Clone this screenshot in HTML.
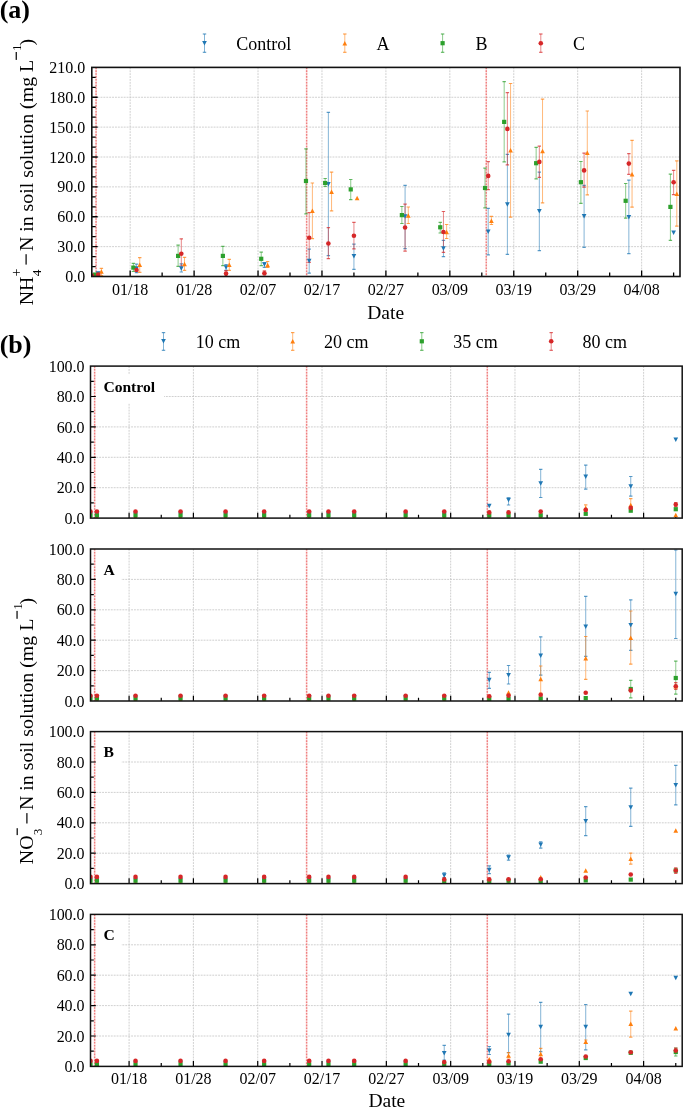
<!DOCTYPE html>
<html><head><meta charset="utf-8"><style>
html,body{margin:0;padding:0;background:#fff;width:685px;height:1110px;overflow:hidden}
svg{display:block}
text{font-family:"Liberation Serif", serif;fill:#000}
svg{-webkit-font-smoothing:antialiased;will-change:transform}
</style></head><body>
<svg width="685" height="1110" viewBox="0 0 685 1110">
<g>
<line x1="130.16" y1="67.40" x2="130.16" y2="276.50" stroke="#c4c4c4" stroke-width="0.8" stroke-dasharray="1.9,1"/>
<line x1="194.10" y1="67.40" x2="194.10" y2="276.50" stroke="#c4c4c4" stroke-width="0.8" stroke-dasharray="1.9,1"/>
<line x1="258.03" y1="67.40" x2="258.03" y2="276.50" stroke="#c4c4c4" stroke-width="0.8" stroke-dasharray="1.9,1"/>
<line x1="321.97" y1="67.40" x2="321.97" y2="276.50" stroke="#c4c4c4" stroke-width="0.8" stroke-dasharray="1.9,1"/>
<line x1="385.90" y1="67.40" x2="385.90" y2="276.50" stroke="#c4c4c4" stroke-width="0.8" stroke-dasharray="1.9,1"/>
<line x1="449.83" y1="67.40" x2="449.83" y2="276.50" stroke="#c4c4c4" stroke-width="0.8" stroke-dasharray="1.9,1"/>
<line x1="513.77" y1="67.40" x2="513.77" y2="276.50" stroke="#c4c4c4" stroke-width="0.8" stroke-dasharray="1.9,1"/>
<line x1="577.70" y1="67.40" x2="577.70" y2="276.50" stroke="#c4c4c4" stroke-width="0.8" stroke-dasharray="1.9,1"/>
<line x1="641.64" y1="67.40" x2="641.64" y2="276.50" stroke="#c4c4c4" stroke-width="0.8" stroke-dasharray="1.9,1"/>
<line x1="91.80" y1="246.63" x2="680.00" y2="246.63" stroke="#c4c4c4" stroke-width="0.8" stroke-dasharray="1.9,1"/>
<line x1="91.80" y1="216.76" x2="680.00" y2="216.76" stroke="#c4c4c4" stroke-width="0.8" stroke-dasharray="1.9,1"/>
<line x1="91.80" y1="186.89" x2="680.00" y2="186.89" stroke="#c4c4c4" stroke-width="0.8" stroke-dasharray="1.9,1"/>
<line x1="91.80" y1="157.01" x2="680.00" y2="157.01" stroke="#c4c4c4" stroke-width="0.8" stroke-dasharray="1.9,1"/>
<line x1="91.80" y1="127.14" x2="680.00" y2="127.14" stroke="#c4c4c4" stroke-width="0.8" stroke-dasharray="1.9,1"/>
<line x1="91.80" y1="97.27" x2="680.00" y2="97.27" stroke="#c4c4c4" stroke-width="0.8" stroke-dasharray="1.9,1"/>
<line x1="96.08" y1="67.40" x2="96.08" y2="276.50" stroke="#fadada" stroke-width="1.6"/>
<line x1="96.08" y1="67.40" x2="96.08" y2="276.50" stroke="#f08080" stroke-width="1.4" stroke-dasharray="1.6,1.3"/>
<line x1="306.62" y1="67.40" x2="306.62" y2="276.50" stroke="#fadada" stroke-width="1.6"/>
<line x1="306.62" y1="67.40" x2="306.62" y2="276.50" stroke="#f08080" stroke-width="1.4" stroke-dasharray="1.6,1.3"/>
<line x1="486.28" y1="67.40" x2="486.28" y2="276.50" stroke="#fadada" stroke-width="1.6"/>
<line x1="486.28" y1="67.40" x2="486.28" y2="276.50" stroke="#f08080" stroke-width="1.4" stroke-dasharray="1.6,1.3"/>
</g>
<path d="M91.80,266.54h3.9 M91.80,256.59h3.9 M91.80,246.63h5.9 M91.80,236.67h3.9 M91.80,226.71h3.9 M91.80,216.76h5.9 M91.80,206.80h3.9 M91.80,196.84h3.9 M91.80,186.89h5.9 M91.80,176.93h3.9 M91.80,166.97h3.9 M91.80,157.01h5.9 M91.80,147.06h3.9 M91.80,137.10h3.9 M91.80,127.14h5.9 M91.80,117.19h3.9 M91.80,107.23h3.9 M91.80,97.27h5.9 M91.80,87.31h3.9 M91.80,77.36h3.9" stroke="#000" stroke-width="1.3" fill="none"/>
<path d="M130.16,276.50v-5.9 M194.10,276.50v-5.9 M258.03,276.50v-5.9 M321.97,276.50v-5.9 M385.90,276.50v-5.9 M449.83,276.50v-5.9 M513.77,276.50v-5.9 M577.70,276.50v-5.9 M641.64,276.50v-5.9 M162.13,276.50v-3.9 M226.06,276.50v-3.9 M290.00,276.50v-3.9 M353.93,276.50v-3.9 M417.87,276.50v-3.9 M481.80,276.50v-3.9 M545.74,276.50v-3.9 M609.67,276.50v-3.9 M673.61,276.50v-3.9" stroke="#000" stroke-width="1.3" fill="none"/>
<clipPath id="cpa"><rect x="91.8" y="67.4" width="588.2" height="209.1"/></clipPath>
<g clip-path="url(#cpa)">
<line x1="98.19" y1="272.40" x2="98.19" y2="275.00" stroke="#1f77b4" stroke-opacity="0.55" stroke-width="1.0"/><line x1="96.49" y1="272.40" x2="99.89" y2="272.40" stroke="#1f77b4" stroke-opacity="0.72" stroke-width="1.2"/><line x1="96.49" y1="275.00" x2="99.89" y2="275.00" stroke="#1f77b4" stroke-opacity="0.72" stroke-width="1.2"/>
<line x1="136.55" y1="264.20" x2="136.55" y2="272.60" stroke="#1f77b4" stroke-opacity="0.55" stroke-width="1.0"/><line x1="134.85" y1="264.20" x2="138.25" y2="264.20" stroke="#1f77b4" stroke-opacity="0.72" stroke-width="1.2"/><line x1="134.85" y1="272.60" x2="138.25" y2="272.60" stroke="#1f77b4" stroke-opacity="0.72" stroke-width="1.2"/>
<line x1="181.31" y1="263.90" x2="181.31" y2="272.00" stroke="#1f77b4" stroke-opacity="0.55" stroke-width="1.0"/><line x1="179.61" y1="263.90" x2="183.01" y2="263.90" stroke="#1f77b4" stroke-opacity="0.72" stroke-width="1.2"/><line x1="179.61" y1="272.00" x2="183.01" y2="272.00" stroke="#1f77b4" stroke-opacity="0.72" stroke-width="1.2"/>
<line x1="226.06" y1="264.70" x2="226.06" y2="270.30" stroke="#1f77b4" stroke-opacity="0.55" stroke-width="1.0"/><line x1="224.36" y1="264.70" x2="227.76" y2="264.70" stroke="#1f77b4" stroke-opacity="0.72" stroke-width="1.2"/><line x1="224.36" y1="270.30" x2="227.76" y2="270.30" stroke="#1f77b4" stroke-opacity="0.72" stroke-width="1.2"/>
<line x1="264.42" y1="262.70" x2="264.42" y2="267.40" stroke="#1f77b4" stroke-opacity="0.55" stroke-width="1.0"/><line x1="262.72" y1="262.70" x2="266.12" y2="262.70" stroke="#1f77b4" stroke-opacity="0.72" stroke-width="1.2"/><line x1="262.72" y1="267.40" x2="266.12" y2="267.40" stroke="#1f77b4" stroke-opacity="0.72" stroke-width="1.2"/>
<line x1="309.18" y1="249.20" x2="309.18" y2="273.20" stroke="#1f77b4" stroke-opacity="0.55" stroke-width="1.0"/><line x1="307.48" y1="249.20" x2="310.88" y2="249.20" stroke="#1f77b4" stroke-opacity="0.72" stroke-width="1.2"/><line x1="307.48" y1="273.20" x2="310.88" y2="273.20" stroke="#1f77b4" stroke-opacity="0.72" stroke-width="1.2"/>
<line x1="328.36" y1="112.40" x2="328.36" y2="255.70" stroke="#1f77b4" stroke-opacity="0.55" stroke-width="1.0"/><line x1="326.66" y1="112.40" x2="330.06" y2="112.40" stroke="#1f77b4" stroke-opacity="0.72" stroke-width="1.2"/><line x1="326.66" y1="255.70" x2="330.06" y2="255.70" stroke="#1f77b4" stroke-opacity="0.72" stroke-width="1.2"/>
<line x1="353.93" y1="244.10" x2="353.93" y2="269.40" stroke="#1f77b4" stroke-opacity="0.55" stroke-width="1.0"/><line x1="352.23" y1="244.10" x2="355.63" y2="244.10" stroke="#1f77b4" stroke-opacity="0.72" stroke-width="1.2"/><line x1="352.23" y1="269.40" x2="355.63" y2="269.40" stroke="#1f77b4" stroke-opacity="0.72" stroke-width="1.2"/>
<line x1="405.08" y1="185.40" x2="405.08" y2="248.60" stroke="#1f77b4" stroke-opacity="0.55" stroke-width="1.0"/><line x1="403.38" y1="185.40" x2="406.78" y2="185.40" stroke="#1f77b4" stroke-opacity="0.72" stroke-width="1.2"/><line x1="403.38" y1="248.60" x2="406.78" y2="248.60" stroke="#1f77b4" stroke-opacity="0.72" stroke-width="1.2"/>
<line x1="443.44" y1="240.30" x2="443.44" y2="256.70" stroke="#1f77b4" stroke-opacity="0.55" stroke-width="1.0"/><line x1="441.74" y1="240.30" x2="445.14" y2="240.30" stroke="#1f77b4" stroke-opacity="0.72" stroke-width="1.2"/><line x1="441.74" y1="256.70" x2="445.14" y2="256.70" stroke="#1f77b4" stroke-opacity="0.72" stroke-width="1.2"/>
<line x1="488.20" y1="208.30" x2="488.20" y2="254.90" stroke="#1f77b4" stroke-opacity="0.55" stroke-width="1.0"/><line x1="486.50" y1="208.30" x2="489.90" y2="208.30" stroke="#1f77b4" stroke-opacity="0.72" stroke-width="1.2"/><line x1="486.50" y1="254.90" x2="489.90" y2="254.90" stroke="#1f77b4" stroke-opacity="0.72" stroke-width="1.2"/>
<line x1="507.38" y1="154.30" x2="507.38" y2="254.40" stroke="#1f77b4" stroke-opacity="0.55" stroke-width="1.0"/><line x1="505.68" y1="154.30" x2="509.08" y2="154.30" stroke="#1f77b4" stroke-opacity="0.72" stroke-width="1.2"/><line x1="505.68" y1="254.40" x2="509.08" y2="254.40" stroke="#1f77b4" stroke-opacity="0.72" stroke-width="1.2"/>
<line x1="539.34" y1="172.10" x2="539.34" y2="250.60" stroke="#1f77b4" stroke-opacity="0.55" stroke-width="1.0"/><line x1="537.64" y1="172.10" x2="541.04" y2="172.10" stroke="#1f77b4" stroke-opacity="0.72" stroke-width="1.2"/><line x1="537.64" y1="250.60" x2="541.04" y2="250.60" stroke="#1f77b4" stroke-opacity="0.72" stroke-width="1.2"/>
<line x1="584.10" y1="185.40" x2="584.10" y2="247.40" stroke="#1f77b4" stroke-opacity="0.55" stroke-width="1.0"/><line x1="582.40" y1="185.40" x2="585.80" y2="185.40" stroke="#1f77b4" stroke-opacity="0.72" stroke-width="1.2"/><line x1="582.40" y1="247.40" x2="585.80" y2="247.40" stroke="#1f77b4" stroke-opacity="0.72" stroke-width="1.2"/>
<line x1="628.85" y1="180.10" x2="628.85" y2="253.60" stroke="#1f77b4" stroke-opacity="0.55" stroke-width="1.0"/><line x1="627.15" y1="180.10" x2="630.55" y2="180.10" stroke="#1f77b4" stroke-opacity="0.72" stroke-width="1.2"/><line x1="627.15" y1="253.60" x2="630.55" y2="253.60" stroke="#1f77b4" stroke-opacity="0.72" stroke-width="1.2"/>
<line x1="101.39" y1="268.40" x2="101.39" y2="275.50" stroke="#ff7f0e" stroke-opacity="0.55" stroke-width="1.0"/><line x1="99.69" y1="268.40" x2="103.09" y2="268.40" stroke="#ff7f0e" stroke-opacity="0.72" stroke-width="1.2"/><line x1="99.69" y1="275.50" x2="103.09" y2="275.50" stroke="#ff7f0e" stroke-opacity="0.72" stroke-width="1.2"/>
<line x1="139.75" y1="257.70" x2="139.75" y2="272.30" stroke="#ff7f0e" stroke-opacity="0.55" stroke-width="1.0"/><line x1="138.05" y1="257.70" x2="141.45" y2="257.70" stroke="#ff7f0e" stroke-opacity="0.72" stroke-width="1.2"/><line x1="138.05" y1="272.30" x2="141.45" y2="272.30" stroke="#ff7f0e" stroke-opacity="0.72" stroke-width="1.2"/>
<line x1="184.51" y1="257.40" x2="184.51" y2="270.30" stroke="#ff7f0e" stroke-opacity="0.55" stroke-width="1.0"/><line x1="182.81" y1="257.40" x2="186.21" y2="257.40" stroke="#ff7f0e" stroke-opacity="0.72" stroke-width="1.2"/><line x1="182.81" y1="270.30" x2="186.21" y2="270.30" stroke="#ff7f0e" stroke-opacity="0.72" stroke-width="1.2"/>
<line x1="229.26" y1="259.40" x2="229.26" y2="270.30" stroke="#ff7f0e" stroke-opacity="0.55" stroke-width="1.0"/><line x1="227.56" y1="259.40" x2="230.96" y2="259.40" stroke="#ff7f0e" stroke-opacity="0.72" stroke-width="1.2"/><line x1="227.56" y1="270.30" x2="230.96" y2="270.30" stroke="#ff7f0e" stroke-opacity="0.72" stroke-width="1.2"/>
<line x1="267.62" y1="261.50" x2="267.62" y2="267.40" stroke="#ff7f0e" stroke-opacity="0.55" stroke-width="1.0"/><line x1="265.92" y1="261.50" x2="269.32" y2="261.50" stroke="#ff7f0e" stroke-opacity="0.72" stroke-width="1.2"/><line x1="265.92" y1="267.40" x2="269.32" y2="267.40" stroke="#ff7f0e" stroke-opacity="0.72" stroke-width="1.2"/>
<line x1="312.38" y1="183.00" x2="312.38" y2="238.60" stroke="#ff7f0e" stroke-opacity="0.55" stroke-width="1.0"/><line x1="310.68" y1="183.00" x2="314.07" y2="183.00" stroke="#ff7f0e" stroke-opacity="0.72" stroke-width="1.2"/><line x1="310.68" y1="238.60" x2="314.07" y2="238.60" stroke="#ff7f0e" stroke-opacity="0.72" stroke-width="1.2"/>
<line x1="331.56" y1="172.20" x2="331.56" y2="210.80" stroke="#ff7f0e" stroke-opacity="0.55" stroke-width="1.0"/><line x1="329.86" y1="172.20" x2="333.26" y2="172.20" stroke="#ff7f0e" stroke-opacity="0.72" stroke-width="1.2"/><line x1="329.86" y1="210.80" x2="333.26" y2="210.80" stroke="#ff7f0e" stroke-opacity="0.72" stroke-width="1.2"/>
<line x1="408.28" y1="207.00" x2="408.28" y2="223.50" stroke="#ff7f0e" stroke-opacity="0.55" stroke-width="1.0"/><line x1="406.58" y1="207.00" x2="409.98" y2="207.00" stroke="#ff7f0e" stroke-opacity="0.72" stroke-width="1.2"/><line x1="406.58" y1="223.50" x2="409.98" y2="223.50" stroke="#ff7f0e" stroke-opacity="0.72" stroke-width="1.2"/>
<line x1="446.64" y1="224.50" x2="446.64" y2="238.50" stroke="#ff7f0e" stroke-opacity="0.55" stroke-width="1.0"/><line x1="444.94" y1="224.50" x2="448.34" y2="224.50" stroke="#ff7f0e" stroke-opacity="0.72" stroke-width="1.2"/><line x1="444.94" y1="238.50" x2="448.34" y2="238.50" stroke="#ff7f0e" stroke-opacity="0.72" stroke-width="1.2"/>
<line x1="491.39" y1="216.40" x2="491.39" y2="224.50" stroke="#ff7f0e" stroke-opacity="0.55" stroke-width="1.0"/><line x1="489.69" y1="216.40" x2="493.09" y2="216.40" stroke="#ff7f0e" stroke-opacity="0.72" stroke-width="1.2"/><line x1="489.69" y1="224.50" x2="493.09" y2="224.50" stroke="#ff7f0e" stroke-opacity="0.72" stroke-width="1.2"/>
<line x1="510.57" y1="83.50" x2="510.57" y2="217.10" stroke="#ff7f0e" stroke-opacity="0.55" stroke-width="1.0"/><line x1="508.87" y1="83.50" x2="512.27" y2="83.50" stroke="#ff7f0e" stroke-opacity="0.72" stroke-width="1.2"/><line x1="508.87" y1="217.10" x2="512.27" y2="217.10" stroke="#ff7f0e" stroke-opacity="0.72" stroke-width="1.2"/>
<line x1="542.54" y1="99.10" x2="542.54" y2="202.90" stroke="#ff7f0e" stroke-opacity="0.55" stroke-width="1.0"/><line x1="540.84" y1="99.10" x2="544.24" y2="99.10" stroke="#ff7f0e" stroke-opacity="0.72" stroke-width="1.2"/><line x1="540.84" y1="202.90" x2="544.24" y2="202.90" stroke="#ff7f0e" stroke-opacity="0.72" stroke-width="1.2"/>
<line x1="587.29" y1="111.00" x2="587.29" y2="194.90" stroke="#ff7f0e" stroke-opacity="0.55" stroke-width="1.0"/><line x1="585.59" y1="111.00" x2="588.99" y2="111.00" stroke="#ff7f0e" stroke-opacity="0.72" stroke-width="1.2"/><line x1="585.59" y1="194.90" x2="588.99" y2="194.90" stroke="#ff7f0e" stroke-opacity="0.72" stroke-width="1.2"/>
<line x1="632.05" y1="140.30" x2="632.05" y2="207.20" stroke="#ff7f0e" stroke-opacity="0.55" stroke-width="1.0"/><line x1="630.35" y1="140.30" x2="633.75" y2="140.30" stroke="#ff7f0e" stroke-opacity="0.72" stroke-width="1.2"/><line x1="630.35" y1="207.20" x2="633.75" y2="207.20" stroke="#ff7f0e" stroke-opacity="0.72" stroke-width="1.2"/>
<line x1="676.80" y1="160.90" x2="676.80" y2="226.10" stroke="#ff7f0e" stroke-opacity="0.55" stroke-width="1.0"/><line x1="675.10" y1="160.90" x2="678.50" y2="160.90" stroke="#ff7f0e" stroke-opacity="0.72" stroke-width="1.2"/><line x1="675.10" y1="226.10" x2="678.50" y2="226.10" stroke="#ff7f0e" stroke-opacity="0.72" stroke-width="1.2"/>
<line x1="133.36" y1="263.30" x2="133.36" y2="271.50" stroke="#2ca02c" stroke-opacity="0.55" stroke-width="1.0"/><line x1="131.66" y1="263.30" x2="135.06" y2="263.30" stroke="#2ca02c" stroke-opacity="0.72" stroke-width="1.2"/><line x1="131.66" y1="271.50" x2="135.06" y2="271.50" stroke="#2ca02c" stroke-opacity="0.72" stroke-width="1.2"/>
<line x1="178.11" y1="245.20" x2="178.11" y2="266.40" stroke="#2ca02c" stroke-opacity="0.55" stroke-width="1.0"/><line x1="176.41" y1="245.20" x2="179.81" y2="245.20" stroke="#2ca02c" stroke-opacity="0.72" stroke-width="1.2"/><line x1="176.41" y1="266.40" x2="179.81" y2="266.40" stroke="#2ca02c" stroke-opacity="0.72" stroke-width="1.2"/>
<line x1="222.87" y1="246.40" x2="222.87" y2="265.60" stroke="#2ca02c" stroke-opacity="0.55" stroke-width="1.0"/><line x1="221.17" y1="246.40" x2="224.57" y2="246.40" stroke="#2ca02c" stroke-opacity="0.72" stroke-width="1.2"/><line x1="221.17" y1="265.60" x2="224.57" y2="265.60" stroke="#2ca02c" stroke-opacity="0.72" stroke-width="1.2"/>
<line x1="261.23" y1="252.20" x2="261.23" y2="265.60" stroke="#2ca02c" stroke-opacity="0.55" stroke-width="1.0"/><line x1="259.53" y1="252.20" x2="262.93" y2="252.20" stroke="#2ca02c" stroke-opacity="0.72" stroke-width="1.2"/><line x1="259.53" y1="265.60" x2="262.93" y2="265.60" stroke="#2ca02c" stroke-opacity="0.72" stroke-width="1.2"/>
<line x1="305.98" y1="148.80" x2="305.98" y2="213.90" stroke="#2ca02c" stroke-opacity="0.55" stroke-width="1.0"/><line x1="304.28" y1="148.80" x2="307.68" y2="148.80" stroke="#2ca02c" stroke-opacity="0.72" stroke-width="1.2"/><line x1="304.28" y1="213.90" x2="307.68" y2="213.90" stroke="#2ca02c" stroke-opacity="0.72" stroke-width="1.2"/>
<line x1="325.16" y1="178.50" x2="325.16" y2="186.50" stroke="#2ca02c" stroke-opacity="0.55" stroke-width="1.0"/><line x1="323.46" y1="178.50" x2="326.86" y2="178.50" stroke="#2ca02c" stroke-opacity="0.72" stroke-width="1.2"/><line x1="323.46" y1="186.50" x2="326.86" y2="186.50" stroke="#2ca02c" stroke-opacity="0.72" stroke-width="1.2"/>
<line x1="350.74" y1="179.50" x2="350.74" y2="199.60" stroke="#2ca02c" stroke-opacity="0.55" stroke-width="1.0"/><line x1="349.04" y1="179.50" x2="352.44" y2="179.50" stroke="#2ca02c" stroke-opacity="0.72" stroke-width="1.2"/><line x1="349.04" y1="199.60" x2="352.44" y2="199.60" stroke="#2ca02c" stroke-opacity="0.72" stroke-width="1.2"/>
<line x1="401.88" y1="206.50" x2="401.88" y2="223.50" stroke="#2ca02c" stroke-opacity="0.55" stroke-width="1.0"/><line x1="400.18" y1="206.50" x2="403.58" y2="206.50" stroke="#2ca02c" stroke-opacity="0.72" stroke-width="1.2"/><line x1="400.18" y1="223.50" x2="403.58" y2="223.50" stroke="#2ca02c" stroke-opacity="0.72" stroke-width="1.2"/>
<line x1="440.24" y1="222.30" x2="440.24" y2="233.00" stroke="#2ca02c" stroke-opacity="0.55" stroke-width="1.0"/><line x1="438.54" y1="222.30" x2="441.94" y2="222.30" stroke="#2ca02c" stroke-opacity="0.72" stroke-width="1.2"/><line x1="438.54" y1="233.00" x2="441.94" y2="233.00" stroke="#2ca02c" stroke-opacity="0.72" stroke-width="1.2"/>
<line x1="485.00" y1="168.10" x2="485.00" y2="207.80" stroke="#2ca02c" stroke-opacity="0.55" stroke-width="1.0"/><line x1="483.30" y1="168.10" x2="486.70" y2="168.10" stroke="#2ca02c" stroke-opacity="0.72" stroke-width="1.2"/><line x1="483.30" y1="207.80" x2="486.70" y2="207.80" stroke="#2ca02c" stroke-opacity="0.72" stroke-width="1.2"/>
<line x1="504.18" y1="81.60" x2="504.18" y2="161.90" stroke="#2ca02c" stroke-opacity="0.55" stroke-width="1.0"/><line x1="502.48" y1="81.60" x2="505.88" y2="81.60" stroke="#2ca02c" stroke-opacity="0.72" stroke-width="1.2"/><line x1="502.48" y1="161.90" x2="505.88" y2="161.90" stroke="#2ca02c" stroke-opacity="0.72" stroke-width="1.2"/>
<line x1="536.15" y1="147.30" x2="536.15" y2="178.90" stroke="#2ca02c" stroke-opacity="0.55" stroke-width="1.0"/><line x1="534.45" y1="147.30" x2="537.85" y2="147.30" stroke="#2ca02c" stroke-opacity="0.72" stroke-width="1.2"/><line x1="534.45" y1="178.90" x2="537.85" y2="178.90" stroke="#2ca02c" stroke-opacity="0.72" stroke-width="1.2"/>
<line x1="580.90" y1="161.50" x2="580.90" y2="203.30" stroke="#2ca02c" stroke-opacity="0.55" stroke-width="1.0"/><line x1="579.20" y1="161.50" x2="582.60" y2="161.50" stroke="#2ca02c" stroke-opacity="0.72" stroke-width="1.2"/><line x1="579.20" y1="203.30" x2="582.60" y2="203.30" stroke="#2ca02c" stroke-opacity="0.72" stroke-width="1.2"/>
<line x1="625.66" y1="183.50" x2="625.66" y2="218.20" stroke="#2ca02c" stroke-opacity="0.55" stroke-width="1.0"/><line x1="623.96" y1="183.50" x2="627.36" y2="183.50" stroke="#2ca02c" stroke-opacity="0.72" stroke-width="1.2"/><line x1="623.96" y1="218.20" x2="627.36" y2="218.20" stroke="#2ca02c" stroke-opacity="0.72" stroke-width="1.2"/>
<line x1="670.41" y1="174.10" x2="670.41" y2="240.30" stroke="#2ca02c" stroke-opacity="0.55" stroke-width="1.0"/><line x1="668.71" y1="174.10" x2="672.11" y2="174.10" stroke="#2ca02c" stroke-opacity="0.72" stroke-width="1.2"/><line x1="668.71" y1="240.30" x2="672.11" y2="240.30" stroke="#2ca02c" stroke-opacity="0.72" stroke-width="1.2"/>
<line x1="181.31" y1="238.80" x2="181.31" y2="266.00" stroke="#d62728" stroke-opacity="0.55" stroke-width="1.0"/><line x1="179.61" y1="238.80" x2="183.01" y2="238.80" stroke="#d62728" stroke-opacity="0.72" stroke-width="1.2"/><line x1="179.61" y1="266.00" x2="183.01" y2="266.00" stroke="#d62728" stroke-opacity="0.72" stroke-width="1.2"/>
<line x1="226.06" y1="270.60" x2="226.06" y2="275.00" stroke="#d62728" stroke-opacity="0.55" stroke-width="1.0"/><line x1="224.36" y1="270.60" x2="227.76" y2="270.60" stroke="#d62728" stroke-opacity="0.72" stroke-width="1.2"/><line x1="224.36" y1="275.00" x2="227.76" y2="275.00" stroke="#d62728" stroke-opacity="0.72" stroke-width="1.2"/>
<line x1="264.42" y1="270.90" x2="264.42" y2="275.00" stroke="#d62728" stroke-opacity="0.55" stroke-width="1.0"/><line x1="262.72" y1="270.90" x2="266.12" y2="270.90" stroke="#d62728" stroke-opacity="0.72" stroke-width="1.2"/><line x1="262.72" y1="275.00" x2="266.12" y2="275.00" stroke="#d62728" stroke-opacity="0.72" stroke-width="1.2"/>
<line x1="309.18" y1="212.60" x2="309.18" y2="262.30" stroke="#d62728" stroke-opacity="0.55" stroke-width="1.0"/><line x1="307.48" y1="212.60" x2="310.88" y2="212.60" stroke="#d62728" stroke-opacity="0.72" stroke-width="1.2"/><line x1="307.48" y1="262.30" x2="310.88" y2="262.30" stroke="#d62728" stroke-opacity="0.72" stroke-width="1.2"/>
<line x1="328.36" y1="227.70" x2="328.36" y2="258.70" stroke="#d62728" stroke-opacity="0.55" stroke-width="1.0"/><line x1="326.66" y1="227.70" x2="330.06" y2="227.70" stroke="#d62728" stroke-opacity="0.72" stroke-width="1.2"/><line x1="326.66" y1="258.70" x2="330.06" y2="258.70" stroke="#d62728" stroke-opacity="0.72" stroke-width="1.2"/>
<line x1="353.93" y1="222.40" x2="353.93" y2="248.90" stroke="#d62728" stroke-opacity="0.55" stroke-width="1.0"/><line x1="352.23" y1="222.40" x2="355.63" y2="222.40" stroke="#d62728" stroke-opacity="0.72" stroke-width="1.2"/><line x1="352.23" y1="248.90" x2="355.63" y2="248.90" stroke="#d62728" stroke-opacity="0.72" stroke-width="1.2"/>
<line x1="405.08" y1="204.20" x2="405.08" y2="251.10" stroke="#d62728" stroke-opacity="0.55" stroke-width="1.0"/><line x1="403.38" y1="204.20" x2="406.78" y2="204.20" stroke="#d62728" stroke-opacity="0.72" stroke-width="1.2"/><line x1="403.38" y1="251.10" x2="406.78" y2="251.10" stroke="#d62728" stroke-opacity="0.72" stroke-width="1.2"/>
<line x1="443.44" y1="211.50" x2="443.44" y2="252.30" stroke="#d62728" stroke-opacity="0.55" stroke-width="1.0"/><line x1="441.74" y1="211.50" x2="445.14" y2="211.50" stroke="#d62728" stroke-opacity="0.72" stroke-width="1.2"/><line x1="441.74" y1="252.30" x2="445.14" y2="252.30" stroke="#d62728" stroke-opacity="0.72" stroke-width="1.2"/>
<line x1="488.20" y1="161.60" x2="488.20" y2="189.70" stroke="#d62728" stroke-opacity="0.55" stroke-width="1.0"/><line x1="486.50" y1="161.60" x2="489.90" y2="161.60" stroke="#d62728" stroke-opacity="0.72" stroke-width="1.2"/><line x1="486.50" y1="189.70" x2="489.90" y2="189.70" stroke="#d62728" stroke-opacity="0.72" stroke-width="1.2"/>
<line x1="507.38" y1="92.70" x2="507.38" y2="164.90" stroke="#d62728" stroke-opacity="0.55" stroke-width="1.0"/><line x1="505.68" y1="92.70" x2="509.08" y2="92.70" stroke="#d62728" stroke-opacity="0.72" stroke-width="1.2"/><line x1="505.68" y1="164.90" x2="509.08" y2="164.90" stroke="#d62728" stroke-opacity="0.72" stroke-width="1.2"/>
<line x1="539.34" y1="146.20" x2="539.34" y2="177.30" stroke="#d62728" stroke-opacity="0.55" stroke-width="1.0"/><line x1="537.64" y1="146.20" x2="541.04" y2="146.20" stroke="#d62728" stroke-opacity="0.72" stroke-width="1.2"/><line x1="537.64" y1="177.30" x2="541.04" y2="177.30" stroke="#d62728" stroke-opacity="0.72" stroke-width="1.2"/>
<line x1="584.10" y1="153.10" x2="584.10" y2="187.20" stroke="#d62728" stroke-opacity="0.55" stroke-width="1.0"/><line x1="582.40" y1="153.10" x2="585.80" y2="153.10" stroke="#d62728" stroke-opacity="0.72" stroke-width="1.2"/><line x1="582.40" y1="187.20" x2="585.80" y2="187.20" stroke="#d62728" stroke-opacity="0.72" stroke-width="1.2"/>
<line x1="628.85" y1="153.60" x2="628.85" y2="174.30" stroke="#d62728" stroke-opacity="0.55" stroke-width="1.0"/><line x1="627.15" y1="153.60" x2="630.55" y2="153.60" stroke="#d62728" stroke-opacity="0.72" stroke-width="1.2"/><line x1="627.15" y1="174.30" x2="630.55" y2="174.30" stroke="#d62728" stroke-opacity="0.72" stroke-width="1.2"/>
<line x1="673.61" y1="170.40" x2="673.61" y2="194.60" stroke="#d62728" stroke-opacity="0.55" stroke-width="1.0"/><line x1="671.91" y1="170.40" x2="675.31" y2="170.40" stroke="#d62728" stroke-opacity="0.72" stroke-width="1.2"/><line x1="671.91" y1="194.60" x2="675.31" y2="194.60" stroke="#d62728" stroke-opacity="0.72" stroke-width="1.2"/>
<path d="M95.84,271.35L100.54,271.35L98.19,275.85Z" fill="#1f77b4"/>
<path d="M134.20,266.25L138.90,266.25L136.55,270.75Z" fill="#1f77b4"/>
<path d="M178.96,266.25L183.66,266.25L181.31,270.75Z" fill="#1f77b4"/>
<path d="M223.71,265.35L228.41,265.35L226.06,269.85Z" fill="#1f77b4"/>
<path d="M262.07,262.25L266.77,262.25L264.42,266.75Z" fill="#1f77b4"/>
<path d="M306.83,258.65L311.53,258.65L309.18,263.15Z" fill="#1f77b4"/>
<path d="M326.01,181.95L330.71,181.95L328.36,186.45Z" fill="#1f77b4"/>
<path d="M351.58,253.95L356.28,253.95L353.93,258.45Z" fill="#1f77b4"/>
<path d="M402.73,214.35L407.43,214.35L405.08,218.85Z" fill="#1f77b4"/>
<path d="M441.09,246.15L445.79,246.15L443.44,250.65Z" fill="#1f77b4"/>
<path d="M485.85,229.45L490.55,229.45L488.20,233.95Z" fill="#1f77b4"/>
<path d="M505.03,202.35L509.73,202.35L507.38,206.85Z" fill="#1f77b4"/>
<path d="M536.99,209.05L541.69,209.05L539.34,213.55Z" fill="#1f77b4"/>
<path d="M581.75,214.05L586.45,214.05L584.10,218.55Z" fill="#1f77b4"/>
<path d="M626.50,214.95L631.20,214.95L628.85,219.45Z" fill="#1f77b4"/>
<path d="M671.26,230.55L675.96,230.55L673.61,235.05Z" fill="#1f77b4"/>
<path d="M99.04,273.85L103.74,273.85L101.39,269.35Z" fill="#ff7f0e"/>
<path d="M137.40,267.05L142.10,267.05L139.75,262.55Z" fill="#ff7f0e"/>
<path d="M182.16,266.15L186.86,266.15L184.51,261.65Z" fill="#ff7f0e"/>
<path d="M226.91,267.05L231.61,267.05L229.26,262.55Z" fill="#ff7f0e"/>
<path d="M265.27,267.25L269.97,267.25L267.62,262.75Z" fill="#ff7f0e"/>
<path d="M310.02,213.05L314.73,213.05L312.38,208.55Z" fill="#ff7f0e"/>
<path d="M329.21,194.05L333.91,194.05L331.56,189.55Z" fill="#ff7f0e"/>
<path d="M354.78,200.35L359.48,200.35L357.13,195.85Z" fill="#ff7f0e"/>
<path d="M405.93,217.65L410.63,217.65L408.28,213.15Z" fill="#ff7f0e"/>
<path d="M444.29,234.25L448.99,234.25L446.64,229.75Z" fill="#ff7f0e"/>
<path d="M489.04,223.05L493.74,223.05L491.39,218.55Z" fill="#ff7f0e"/>
<path d="M508.22,152.45L512.92,152.45L510.57,147.95Z" fill="#ff7f0e"/>
<path d="M540.19,153.25L544.89,153.25L542.54,148.75Z" fill="#ff7f0e"/>
<path d="M584.94,155.05L589.64,155.05L587.29,150.55Z" fill="#ff7f0e"/>
<path d="M629.70,176.55L634.40,176.55L632.05,172.05Z" fill="#ff7f0e"/>
<path d="M674.45,195.95L679.15,195.95L676.80,191.45Z" fill="#ff7f0e"/>
<rect x="86.50" y="273.50" width="4.20" height="4.20" fill="#2ca02c"/>
<rect x="92.90" y="272.50" width="4.20" height="4.20" fill="#2ca02c"/>
<rect x="131.26" y="265.50" width="4.20" height="4.20" fill="#2ca02c"/>
<rect x="176.01" y="253.80" width="4.20" height="4.20" fill="#2ca02c"/>
<rect x="220.77" y="253.80" width="4.20" height="4.20" fill="#2ca02c"/>
<rect x="259.13" y="256.70" width="4.20" height="4.20" fill="#2ca02c"/>
<rect x="303.88" y="178.90" width="4.20" height="4.20" fill="#2ca02c"/>
<rect x="323.06" y="180.90" width="4.20" height="4.20" fill="#2ca02c"/>
<rect x="348.64" y="187.30" width="4.20" height="4.20" fill="#2ca02c"/>
<rect x="399.78" y="213.00" width="4.20" height="4.20" fill="#2ca02c"/>
<rect x="438.14" y="225.20" width="4.20" height="4.20" fill="#2ca02c"/>
<rect x="482.90" y="185.90" width="4.20" height="4.20" fill="#2ca02c"/>
<rect x="502.08" y="119.80" width="4.20" height="4.20" fill="#2ca02c"/>
<rect x="534.05" y="161.10" width="4.20" height="4.20" fill="#2ca02c"/>
<rect x="578.80" y="180.10" width="4.20" height="4.20" fill="#2ca02c"/>
<rect x="623.56" y="198.70" width="4.20" height="4.20" fill="#2ca02c"/>
<rect x="668.31" y="204.80" width="4.20" height="4.20" fill="#2ca02c"/>
<circle cx="91.80" cy="275.60" r="2.30" fill="#d62728"/>
<circle cx="98.19" cy="274.50" r="2.30" fill="#d62728"/>
<circle cx="136.55" cy="270.00" r="2.30" fill="#d62728"/>
<circle cx="181.31" cy="253.70" r="2.30" fill="#d62728"/>
<circle cx="226.06" cy="273.60" r="2.30" fill="#d62728"/>
<circle cx="264.42" cy="273.20" r="2.30" fill="#d62728"/>
<circle cx="309.18" cy="237.80" r="2.30" fill="#d62728"/>
<circle cx="328.36" cy="243.50" r="2.30" fill="#d62728"/>
<circle cx="353.93" cy="235.70" r="2.30" fill="#d62728"/>
<circle cx="405.08" cy="227.50" r="2.30" fill="#d62728"/>
<circle cx="443.44" cy="232.00" r="2.30" fill="#d62728"/>
<circle cx="488.20" cy="175.90" r="2.30" fill="#d62728"/>
<circle cx="507.38" cy="128.90" r="2.30" fill="#d62728"/>
<circle cx="539.34" cy="161.90" r="2.30" fill="#d62728"/>
<circle cx="584.10" cy="170.40" r="2.30" fill="#d62728"/>
<circle cx="628.85" cy="163.60" r="2.30" fill="#d62728"/>
<circle cx="673.61" cy="182.30" r="2.30" fill="#d62728"/>
</g>
<rect x="91.80" y="67.40" width="588.20" height="209.10" fill="none" stroke="#111" stroke-width="1.6"/>
<text transform="translate(85.30,282.10) scale(1,1.07)" font-size="16" text-anchor="end" font-weight="normal" >0.0</text>
<text transform="translate(85.30,252.23) scale(1,1.07)" font-size="16" text-anchor="end" font-weight="normal" >30.0</text>
<text transform="translate(85.30,222.36) scale(1,1.07)" font-size="16" text-anchor="end" font-weight="normal" >60.0</text>
<text transform="translate(85.30,192.49) scale(1,1.07)" font-size="16" text-anchor="end" font-weight="normal" >90.0</text>
<text transform="translate(85.30,162.61) scale(1,1.07)" font-size="16" text-anchor="end" font-weight="normal" >120.0</text>
<text transform="translate(85.30,132.74) scale(1,1.07)" font-size="16" text-anchor="end" font-weight="normal" >150.0</text>
<text transform="translate(85.30,102.87) scale(1,1.07)" font-size="16" text-anchor="end" font-weight="normal" >180.0</text>
<text transform="translate(85.30,73.00) scale(1,1.07)" font-size="16" text-anchor="end" font-weight="normal" >210.0</text>
<text transform="translate(130.16,294.60) scale(1,1.07)" font-size="16" text-anchor="middle" font-weight="normal" >01/18</text>
<text transform="translate(194.10,294.60) scale(1,1.07)" font-size="16" text-anchor="middle" font-weight="normal" >01/28</text>
<text transform="translate(258.03,294.60) scale(1,1.07)" font-size="16" text-anchor="middle" font-weight="normal" >02/07</text>
<text transform="translate(321.97,294.60) scale(1,1.07)" font-size="16" text-anchor="middle" font-weight="normal" >02/17</text>
<text transform="translate(385.90,294.60) scale(1,1.07)" font-size="16" text-anchor="middle" font-weight="normal" >02/27</text>
<text transform="translate(449.83,294.60) scale(1,1.07)" font-size="16" text-anchor="middle" font-weight="normal" >03/09</text>
<text transform="translate(513.77,294.60) scale(1,1.07)" font-size="16" text-anchor="middle" font-weight="normal" >03/19</text>
<text transform="translate(577.70,294.60) scale(1,1.07)" font-size="16" text-anchor="middle" font-weight="normal" >03/29</text>
<text transform="translate(641.64,294.60) scale(1,1.07)" font-size="16" text-anchor="middle" font-weight="normal" >04/08</text>
<text x="385.70" y="318.60" font-size="19.5" text-anchor="middle" font-weight="normal" >Date</text>
<g>
<line x1="129.09" y1="366.10" x2="129.09" y2="518.10" stroke="#c4c4c4" stroke-width="0.8" stroke-dasharray="1.9,1"/>
<line x1="193.40" y1="366.10" x2="193.40" y2="518.10" stroke="#c4c4c4" stroke-width="0.8" stroke-dasharray="1.9,1"/>
<line x1="257.72" y1="366.10" x2="257.72" y2="518.10" stroke="#c4c4c4" stroke-width="0.8" stroke-dasharray="1.9,1"/>
<line x1="322.03" y1="366.10" x2="322.03" y2="518.10" stroke="#c4c4c4" stroke-width="0.8" stroke-dasharray="1.9,1"/>
<line x1="386.35" y1="366.10" x2="386.35" y2="518.10" stroke="#c4c4c4" stroke-width="0.8" stroke-dasharray="1.9,1"/>
<line x1="450.67" y1="366.10" x2="450.67" y2="518.10" stroke="#c4c4c4" stroke-width="0.8" stroke-dasharray="1.9,1"/>
<line x1="514.98" y1="366.10" x2="514.98" y2="518.10" stroke="#c4c4c4" stroke-width="0.8" stroke-dasharray="1.9,1"/>
<line x1="579.30" y1="366.10" x2="579.30" y2="518.10" stroke="#c4c4c4" stroke-width="0.8" stroke-dasharray="1.9,1"/>
<line x1="643.61" y1="366.10" x2="643.61" y2="518.10" stroke="#c4c4c4" stroke-width="0.8" stroke-dasharray="1.9,1"/>
<line x1="90.50" y1="487.70" x2="682.20" y2="487.70" stroke="#c4c4c4" stroke-width="0.8" stroke-dasharray="1.9,1"/>
<line x1="90.50" y1="457.30" x2="682.20" y2="457.30" stroke="#c4c4c4" stroke-width="0.8" stroke-dasharray="1.9,1"/>
<line x1="90.50" y1="426.90" x2="682.20" y2="426.90" stroke="#c4c4c4" stroke-width="0.8" stroke-dasharray="1.9,1"/>
<line x1="90.50" y1="396.50" x2="682.20" y2="396.50" stroke="#c4c4c4" stroke-width="0.8" stroke-dasharray="1.9,1"/>
<rect x="96" y="374.10" width="68.00" height="29" fill="#fff"/>
<line x1="94.62" y1="366.10" x2="94.62" y2="518.10" stroke="#fadada" stroke-width="1.6"/>
<line x1="94.62" y1="366.10" x2="94.62" y2="518.10" stroke="#f08080" stroke-width="1.4" stroke-dasharray="1.6,1.3"/>
<line x1="306.60" y1="366.10" x2="306.60" y2="518.10" stroke="#fadada" stroke-width="1.6"/>
<line x1="306.60" y1="366.10" x2="306.60" y2="518.10" stroke="#f08080" stroke-width="1.4" stroke-dasharray="1.6,1.3"/>
<line x1="487.32" y1="366.10" x2="487.32" y2="518.10" stroke="#fadada" stroke-width="1.6"/>
<line x1="487.32" y1="366.10" x2="487.32" y2="518.10" stroke="#f08080" stroke-width="1.4" stroke-dasharray="1.6,1.3"/>
</g>
<path d="M90.50,502.90h3.3 M90.50,487.70h5.3 M90.50,472.50h3.3 M90.50,457.30h5.3 M90.50,442.10h3.3 M90.50,426.90h5.3 M90.50,411.70h3.3 M90.50,396.50h5.3 M90.50,381.30h3.3 M129.09,518.10v-5.3 M193.40,518.10v-5.3 M257.72,518.10v-5.3 M322.03,518.10v-5.3 M386.35,518.10v-5.3 M450.67,518.10v-5.3 M514.98,518.10v-5.3 M579.30,518.10v-5.3 M643.61,518.10v-5.3 M161.25,518.10v-3.3 M225.56,518.10v-3.3 M289.88,518.10v-3.3 M354.19,518.10v-3.3 M418.51,518.10v-3.3 M482.82,518.10v-3.3 M547.14,518.10v-3.3 M611.45,518.10v-3.3 M675.77,518.10v-3.3" stroke="#000" stroke-width="1.2" fill="none"/>
<clipPath id="cpb0"><rect x="90.5" y="366.1" width="591.7" height="152.0"/></clipPath>
<g clip-path="url(#cpb0)">
<line x1="508.55" y1="497.80" x2="508.55" y2="505.00" stroke="#1f77b4" stroke-opacity="0.55" stroke-width="1.0"/><line x1="506.85" y1="497.80" x2="510.25" y2="497.80" stroke="#1f77b4" stroke-opacity="0.72" stroke-width="1.2"/><line x1="506.85" y1="505.00" x2="510.25" y2="505.00" stroke="#1f77b4" stroke-opacity="0.72" stroke-width="1.2"/>
<line x1="540.71" y1="469.30" x2="540.71" y2="497.50" stroke="#1f77b4" stroke-opacity="0.55" stroke-width="1.0"/><line x1="539.01" y1="469.30" x2="542.41" y2="469.30" stroke="#1f77b4" stroke-opacity="0.72" stroke-width="1.2"/><line x1="539.01" y1="497.50" x2="542.41" y2="497.50" stroke="#1f77b4" stroke-opacity="0.72" stroke-width="1.2"/>
<line x1="585.73" y1="465.10" x2="585.73" y2="489.10" stroke="#1f77b4" stroke-opacity="0.55" stroke-width="1.0"/><line x1="584.03" y1="465.10" x2="587.43" y2="465.10" stroke="#1f77b4" stroke-opacity="0.72" stroke-width="1.2"/><line x1="584.03" y1="489.10" x2="587.43" y2="489.10" stroke="#1f77b4" stroke-opacity="0.72" stroke-width="1.2"/>
<line x1="630.75" y1="476.50" x2="630.75" y2="496.10" stroke="#1f77b4" stroke-opacity="0.55" stroke-width="1.0"/><line x1="629.05" y1="476.50" x2="632.45" y2="476.50" stroke="#1f77b4" stroke-opacity="0.72" stroke-width="1.2"/><line x1="629.05" y1="496.10" x2="632.45" y2="496.10" stroke="#1f77b4" stroke-opacity="0.72" stroke-width="1.2"/>
<line x1="585.73" y1="504.90" x2="585.73" y2="511.00" stroke="#ff7f0e" stroke-opacity="0.55" stroke-width="1.0"/><line x1="584.03" y1="504.90" x2="587.43" y2="504.90" stroke="#ff7f0e" stroke-opacity="0.72" stroke-width="1.2"/><line x1="584.03" y1="511.00" x2="587.43" y2="511.00" stroke="#ff7f0e" stroke-opacity="0.72" stroke-width="1.2"/>
<line x1="630.75" y1="498.60" x2="630.75" y2="510.40" stroke="#ff7f0e" stroke-opacity="0.55" stroke-width="1.0"/><line x1="629.05" y1="498.60" x2="632.45" y2="498.60" stroke="#ff7f0e" stroke-opacity="0.72" stroke-width="1.2"/><line x1="629.05" y1="510.40" x2="632.45" y2="510.40" stroke="#ff7f0e" stroke-opacity="0.72" stroke-width="1.2"/>
<line x1="675.77" y1="502.50" x2="675.77" y2="506.50" stroke="#d62728" stroke-opacity="0.55" stroke-width="1.0"/><line x1="674.07" y1="502.50" x2="677.47" y2="502.50" stroke="#d62728" stroke-opacity="0.72" stroke-width="1.2"/><line x1="674.07" y1="506.50" x2="677.47" y2="506.50" stroke="#d62728" stroke-opacity="0.72" stroke-width="1.2"/>
<path d="M88.15,512.25L92.85,512.25L90.50,516.75Z" fill="#1f77b4"/>
<path d="M94.58,512.25L99.28,512.25L96.93,516.75Z" fill="#1f77b4"/>
<path d="M133.17,512.25L137.87,512.25L135.52,516.75Z" fill="#1f77b4"/>
<path d="M178.19,512.25L182.89,512.25L180.54,516.75Z" fill="#1f77b4"/>
<path d="M223.21,512.25L227.91,512.25L225.56,516.75Z" fill="#1f77b4"/>
<path d="M261.80,512.25L266.50,512.25L264.15,516.75Z" fill="#1f77b4"/>
<path d="M306.82,512.25L311.52,512.25L309.17,516.75Z" fill="#1f77b4"/>
<path d="M326.12,512.25L330.82,512.25L328.47,516.75Z" fill="#1f77b4"/>
<path d="M351.84,512.25L356.54,512.25L354.19,516.75Z" fill="#1f77b4"/>
<path d="M403.29,512.25L407.99,512.25L405.64,516.75Z" fill="#1f77b4"/>
<path d="M441.88,512.25L446.58,512.25L444.23,516.75Z" fill="#1f77b4"/>
<path d="M486.90,503.85L491.60,503.85L489.25,508.35Z" fill="#1f77b4"/>
<path d="M506.20,497.85L510.90,497.85L508.55,502.35Z" fill="#1f77b4"/>
<path d="M538.36,481.15L543.06,481.15L540.71,485.65Z" fill="#1f77b4"/>
<path d="M583.38,474.55L588.08,474.55L585.73,479.05Z" fill="#1f77b4"/>
<path d="M628.40,484.15L633.10,484.15L630.75,488.65Z" fill="#1f77b4"/>
<path d="M673.42,437.45L678.12,437.45L675.77,441.95Z" fill="#1f77b4"/>
<path d="M88.15,519.15L92.85,519.15L90.50,514.65Z" fill="#ff7f0e"/>
<path d="M94.58,519.15L99.28,519.15L96.93,514.65Z" fill="#ff7f0e"/>
<path d="M133.17,519.15L137.87,519.15L135.52,514.65Z" fill="#ff7f0e"/>
<path d="M178.19,519.15L182.89,519.15L180.54,514.65Z" fill="#ff7f0e"/>
<path d="M223.21,519.15L227.91,519.15L225.56,514.65Z" fill="#ff7f0e"/>
<path d="M261.80,519.15L266.50,519.15L264.15,514.65Z" fill="#ff7f0e"/>
<path d="M306.82,519.15L311.52,519.15L309.17,514.65Z" fill="#ff7f0e"/>
<path d="M326.12,519.15L330.82,519.15L328.47,514.65Z" fill="#ff7f0e"/>
<path d="M351.84,519.15L356.54,519.15L354.19,514.65Z" fill="#ff7f0e"/>
<path d="M403.29,519.15L407.99,519.15L405.64,514.65Z" fill="#ff7f0e"/>
<path d="M441.88,519.15L446.58,519.15L444.23,514.65Z" fill="#ff7f0e"/>
<path d="M486.90,519.15L491.60,519.15L489.25,514.65Z" fill="#ff7f0e"/>
<path d="M506.20,519.15L510.90,519.15L508.55,514.65Z" fill="#ff7f0e"/>
<path d="M538.36,519.15L543.06,519.15L540.71,514.65Z" fill="#ff7f0e"/>
<path d="M583.38,510.15L588.08,510.15L585.73,505.65Z" fill="#ff7f0e"/>
<path d="M628.40,507.25L633.10,507.25L630.75,502.75Z" fill="#ff7f0e"/>
<path d="M673.42,517.15L678.12,517.15L675.77,512.65Z" fill="#ff7f0e"/>
<rect x="88.40" y="513.20" width="4.20" height="4.20" fill="#2ca02c"/>
<rect x="94.83" y="513.20" width="4.20" height="4.20" fill="#2ca02c"/>
<rect x="133.42" y="513.20" width="4.20" height="4.20" fill="#2ca02c"/>
<rect x="178.44" y="513.20" width="4.20" height="4.20" fill="#2ca02c"/>
<rect x="223.46" y="513.20" width="4.20" height="4.20" fill="#2ca02c"/>
<rect x="262.05" y="513.20" width="4.20" height="4.20" fill="#2ca02c"/>
<rect x="307.07" y="513.20" width="4.20" height="4.20" fill="#2ca02c"/>
<rect x="326.37" y="513.20" width="4.20" height="4.20" fill="#2ca02c"/>
<rect x="352.09" y="513.20" width="4.20" height="4.20" fill="#2ca02c"/>
<rect x="403.54" y="513.20" width="4.20" height="4.20" fill="#2ca02c"/>
<rect x="442.13" y="513.20" width="4.20" height="4.20" fill="#2ca02c"/>
<rect x="487.15" y="513.30" width="4.20" height="4.20" fill="#2ca02c"/>
<rect x="506.45" y="513.30" width="4.20" height="4.20" fill="#2ca02c"/>
<rect x="538.61" y="513.20" width="4.20" height="4.20" fill="#2ca02c"/>
<rect x="583.63" y="511.70" width="4.20" height="4.20" fill="#2ca02c"/>
<rect x="628.65" y="508.60" width="4.20" height="4.20" fill="#2ca02c"/>
<rect x="673.67" y="507.10" width="4.20" height="4.20" fill="#2ca02c"/>
<circle cx="90.50" cy="511.50" r="2.30" fill="#d62728"/>
<circle cx="96.93" cy="511.50" r="2.30" fill="#d62728"/>
<circle cx="135.52" cy="511.50" r="2.30" fill="#d62728"/>
<circle cx="180.54" cy="511.50" r="2.30" fill="#d62728"/>
<circle cx="225.56" cy="511.50" r="2.30" fill="#d62728"/>
<circle cx="264.15" cy="511.50" r="2.30" fill="#d62728"/>
<circle cx="309.17" cy="511.50" r="2.30" fill="#d62728"/>
<circle cx="328.47" cy="511.50" r="2.30" fill="#d62728"/>
<circle cx="354.19" cy="511.50" r="2.30" fill="#d62728"/>
<circle cx="405.64" cy="511.50" r="2.30" fill="#d62728"/>
<circle cx="444.23" cy="511.50" r="2.30" fill="#d62728"/>
<circle cx="489.25" cy="512.40" r="2.30" fill="#d62728"/>
<circle cx="508.55" cy="512.40" r="2.30" fill="#d62728"/>
<circle cx="540.71" cy="511.60" r="2.30" fill="#d62728"/>
<circle cx="585.73" cy="509.90" r="2.30" fill="#d62728"/>
<circle cx="630.75" cy="507.90" r="2.30" fill="#d62728"/>
<circle cx="675.77" cy="504.50" r="2.30" fill="#d62728"/>
</g>
<rect x="90.50" y="366.10" width="591.70" height="152.00" fill="none" stroke="#111" stroke-width="1.5"/>
<text transform="translate(84.60,523.70) scale(1,1.07)" font-size="16" text-anchor="end" font-weight="normal" >0.0</text>
<text transform="translate(84.60,493.30) scale(1,1.07)" font-size="16" text-anchor="end" font-weight="normal" >20.0</text>
<text transform="translate(84.60,462.90) scale(1,1.07)" font-size="16" text-anchor="end" font-weight="normal" >40.0</text>
<text transform="translate(84.60,432.50) scale(1,1.07)" font-size="16" text-anchor="end" font-weight="normal" >60.0</text>
<text transform="translate(84.60,402.10) scale(1,1.07)" font-size="16" text-anchor="end" font-weight="normal" >80.0</text>
<text transform="translate(84.60,371.70) scale(1,1.07)" font-size="16" text-anchor="end" font-weight="normal" >100.0</text>
<text x="103.40" y="391.60" font-size="15.6" text-anchor="start" font-weight="bold" >Control</text>
<g>
<line x1="129.09" y1="549.00" x2="129.09" y2="701.00" stroke="#c4c4c4" stroke-width="0.8" stroke-dasharray="1.9,1"/>
<line x1="193.40" y1="549.00" x2="193.40" y2="701.00" stroke="#c4c4c4" stroke-width="0.8" stroke-dasharray="1.9,1"/>
<line x1="257.72" y1="549.00" x2="257.72" y2="701.00" stroke="#c4c4c4" stroke-width="0.8" stroke-dasharray="1.9,1"/>
<line x1="322.03" y1="549.00" x2="322.03" y2="701.00" stroke="#c4c4c4" stroke-width="0.8" stroke-dasharray="1.9,1"/>
<line x1="386.35" y1="549.00" x2="386.35" y2="701.00" stroke="#c4c4c4" stroke-width="0.8" stroke-dasharray="1.9,1"/>
<line x1="450.67" y1="549.00" x2="450.67" y2="701.00" stroke="#c4c4c4" stroke-width="0.8" stroke-dasharray="1.9,1"/>
<line x1="514.98" y1="549.00" x2="514.98" y2="701.00" stroke="#c4c4c4" stroke-width="0.8" stroke-dasharray="1.9,1"/>
<line x1="579.30" y1="549.00" x2="579.30" y2="701.00" stroke="#c4c4c4" stroke-width="0.8" stroke-dasharray="1.9,1"/>
<line x1="643.61" y1="549.00" x2="643.61" y2="701.00" stroke="#c4c4c4" stroke-width="0.8" stroke-dasharray="1.9,1"/>
<line x1="90.50" y1="670.60" x2="682.20" y2="670.60" stroke="#c4c4c4" stroke-width="0.8" stroke-dasharray="1.9,1"/>
<line x1="90.50" y1="640.20" x2="682.20" y2="640.20" stroke="#c4c4c4" stroke-width="0.8" stroke-dasharray="1.9,1"/>
<line x1="90.50" y1="609.80" x2="682.20" y2="609.80" stroke="#c4c4c4" stroke-width="0.8" stroke-dasharray="1.9,1"/>
<line x1="90.50" y1="579.40" x2="682.20" y2="579.40" stroke="#c4c4c4" stroke-width="0.8" stroke-dasharray="1.9,1"/>
<rect x="96" y="557.00" width="25.50" height="29" fill="#fff"/>
<line x1="94.62" y1="549.00" x2="94.62" y2="701.00" stroke="#fadada" stroke-width="1.6"/>
<line x1="94.62" y1="549.00" x2="94.62" y2="701.00" stroke="#f08080" stroke-width="1.4" stroke-dasharray="1.6,1.3"/>
<line x1="306.60" y1="549.00" x2="306.60" y2="701.00" stroke="#fadada" stroke-width="1.6"/>
<line x1="306.60" y1="549.00" x2="306.60" y2="701.00" stroke="#f08080" stroke-width="1.4" stroke-dasharray="1.6,1.3"/>
<line x1="487.32" y1="549.00" x2="487.32" y2="701.00" stroke="#fadada" stroke-width="1.6"/>
<line x1="487.32" y1="549.00" x2="487.32" y2="701.00" stroke="#f08080" stroke-width="1.4" stroke-dasharray="1.6,1.3"/>
</g>
<path d="M90.50,685.80h3.3 M90.50,670.60h5.3 M90.50,655.40h3.3 M90.50,640.20h5.3 M90.50,625.00h3.3 M90.50,609.80h5.3 M90.50,594.60h3.3 M90.50,579.40h5.3 M90.50,564.20h3.3 M129.09,701.00v-5.3 M193.40,701.00v-5.3 M257.72,701.00v-5.3 M322.03,701.00v-5.3 M386.35,701.00v-5.3 M450.67,701.00v-5.3 M514.98,701.00v-5.3 M579.30,701.00v-5.3 M643.61,701.00v-5.3 M161.25,701.00v-3.3 M225.56,701.00v-3.3 M289.88,701.00v-3.3 M354.19,701.00v-3.3 M418.51,701.00v-3.3 M482.82,701.00v-3.3 M547.14,701.00v-3.3 M611.45,701.00v-3.3 M675.77,701.00v-3.3" stroke="#000" stroke-width="1.2" fill="none"/>
<clipPath id="cpb1"><rect x="90.5" y="549.0" width="591.7" height="152.0"/></clipPath>
<g clip-path="url(#cpb1)">
<line x1="489.25" y1="672.30" x2="489.25" y2="688.30" stroke="#1f77b4" stroke-opacity="0.55" stroke-width="1.0"/><line x1="487.55" y1="672.30" x2="490.95" y2="672.30" stroke="#1f77b4" stroke-opacity="0.72" stroke-width="1.2"/><line x1="487.55" y1="688.30" x2="490.95" y2="688.30" stroke="#1f77b4" stroke-opacity="0.72" stroke-width="1.2"/>
<line x1="508.55" y1="665.50" x2="508.55" y2="684.00" stroke="#1f77b4" stroke-opacity="0.55" stroke-width="1.0"/><line x1="506.85" y1="665.50" x2="510.25" y2="665.50" stroke="#1f77b4" stroke-opacity="0.72" stroke-width="1.2"/><line x1="506.85" y1="684.00" x2="510.25" y2="684.00" stroke="#1f77b4" stroke-opacity="0.72" stroke-width="1.2"/>
<line x1="540.71" y1="636.80" x2="540.71" y2="675.20" stroke="#1f77b4" stroke-opacity="0.55" stroke-width="1.0"/><line x1="539.01" y1="636.80" x2="542.41" y2="636.80" stroke="#1f77b4" stroke-opacity="0.72" stroke-width="1.2"/><line x1="539.01" y1="675.20" x2="542.41" y2="675.20" stroke="#1f77b4" stroke-opacity="0.72" stroke-width="1.2"/>
<line x1="585.73" y1="596.40" x2="585.73" y2="656.30" stroke="#1f77b4" stroke-opacity="0.55" stroke-width="1.0"/><line x1="584.03" y1="596.40" x2="587.43" y2="596.40" stroke="#1f77b4" stroke-opacity="0.72" stroke-width="1.2"/><line x1="584.03" y1="656.30" x2="587.43" y2="656.30" stroke="#1f77b4" stroke-opacity="0.72" stroke-width="1.2"/>
<line x1="630.75" y1="599.90" x2="630.75" y2="650.30" stroke="#1f77b4" stroke-opacity="0.55" stroke-width="1.0"/><line x1="629.05" y1="599.90" x2="632.45" y2="599.90" stroke="#1f77b4" stroke-opacity="0.72" stroke-width="1.2"/><line x1="629.05" y1="650.30" x2="632.45" y2="650.30" stroke="#1f77b4" stroke-opacity="0.72" stroke-width="1.2"/>
<line x1="675.77" y1="550.00" x2="675.77" y2="638.50" stroke="#1f77b4" stroke-opacity="0.55" stroke-width="1.0"/><line x1="674.07" y1="550.00" x2="677.47" y2="550.00" stroke="#1f77b4" stroke-opacity="0.72" stroke-width="1.2"/><line x1="674.07" y1="638.50" x2="677.47" y2="638.50" stroke="#1f77b4" stroke-opacity="0.72" stroke-width="1.2"/>
<line x1="540.71" y1="666.00" x2="540.71" y2="693.00" stroke="#ff7f0e" stroke-opacity="0.55" stroke-width="1.0"/><line x1="539.01" y1="666.00" x2="542.41" y2="666.00" stroke="#ff7f0e" stroke-opacity="0.72" stroke-width="1.2"/><line x1="539.01" y1="693.00" x2="542.41" y2="693.00" stroke="#ff7f0e" stroke-opacity="0.72" stroke-width="1.2"/>
<line x1="585.73" y1="636.50" x2="585.73" y2="679.30" stroke="#ff7f0e" stroke-opacity="0.55" stroke-width="1.0"/><line x1="584.03" y1="636.50" x2="587.43" y2="636.50" stroke="#ff7f0e" stroke-opacity="0.72" stroke-width="1.2"/><line x1="584.03" y1="679.30" x2="587.43" y2="679.30" stroke="#ff7f0e" stroke-opacity="0.72" stroke-width="1.2"/>
<line x1="630.75" y1="611.00" x2="630.75" y2="664.20" stroke="#ff7f0e" stroke-opacity="0.55" stroke-width="1.0"/><line x1="629.05" y1="611.00" x2="632.45" y2="611.00" stroke="#ff7f0e" stroke-opacity="0.72" stroke-width="1.2"/><line x1="629.05" y1="664.20" x2="632.45" y2="664.20" stroke="#ff7f0e" stroke-opacity="0.72" stroke-width="1.2"/>
<line x1="630.75" y1="680.30" x2="630.75" y2="697.80" stroke="#2ca02c" stroke-opacity="0.55" stroke-width="1.0"/><line x1="629.05" y1="680.30" x2="632.45" y2="680.30" stroke="#2ca02c" stroke-opacity="0.72" stroke-width="1.2"/><line x1="629.05" y1="697.80" x2="632.45" y2="697.80" stroke="#2ca02c" stroke-opacity="0.72" stroke-width="1.2"/>
<line x1="675.77" y1="661.20" x2="675.77" y2="694.10" stroke="#2ca02c" stroke-opacity="0.55" stroke-width="1.0"/><line x1="674.07" y1="661.20" x2="677.47" y2="661.20" stroke="#2ca02c" stroke-opacity="0.72" stroke-width="1.2"/><line x1="674.07" y1="694.10" x2="677.47" y2="694.10" stroke="#2ca02c" stroke-opacity="0.72" stroke-width="1.2"/>
<line x1="675.77" y1="682.70" x2="675.77" y2="689.40" stroke="#d62728" stroke-opacity="0.55" stroke-width="1.0"/><line x1="674.07" y1="682.70" x2="677.47" y2="682.70" stroke="#d62728" stroke-opacity="0.72" stroke-width="1.2"/><line x1="674.07" y1="689.40" x2="677.47" y2="689.40" stroke="#d62728" stroke-opacity="0.72" stroke-width="1.2"/>
<path d="M88.15,695.55L92.85,695.55L90.50,700.05Z" fill="#1f77b4"/>
<path d="M94.58,695.55L99.28,695.55L96.93,700.05Z" fill="#1f77b4"/>
<path d="M133.17,695.55L137.87,695.55L135.52,700.05Z" fill="#1f77b4"/>
<path d="M178.19,695.55L182.89,695.55L180.54,700.05Z" fill="#1f77b4"/>
<path d="M223.21,695.55L227.91,695.55L225.56,700.05Z" fill="#1f77b4"/>
<path d="M261.80,695.55L266.50,695.55L264.15,700.05Z" fill="#1f77b4"/>
<path d="M306.82,695.55L311.52,695.55L309.17,700.05Z" fill="#1f77b4"/>
<path d="M326.12,695.55L330.82,695.55L328.47,700.05Z" fill="#1f77b4"/>
<path d="M351.84,695.55L356.54,695.55L354.19,700.05Z" fill="#1f77b4"/>
<path d="M403.29,695.55L407.99,695.55L405.64,700.05Z" fill="#1f77b4"/>
<path d="M441.88,695.55L446.58,695.55L444.23,700.05Z" fill="#1f77b4"/>
<path d="M486.90,677.85L491.60,677.85L489.25,682.35Z" fill="#1f77b4"/>
<path d="M506.20,672.95L510.90,672.95L508.55,677.45Z" fill="#1f77b4"/>
<path d="M538.36,653.55L543.06,653.55L540.71,658.05Z" fill="#1f77b4"/>
<path d="M583.38,624.55L588.08,624.55L585.73,629.05Z" fill="#1f77b4"/>
<path d="M628.40,622.95L633.10,622.95L630.75,627.45Z" fill="#1f77b4"/>
<path d="M673.42,591.75L678.12,591.75L675.77,596.25Z" fill="#1f77b4"/>
<path d="M88.15,702.45L92.85,702.45L90.50,697.95Z" fill="#ff7f0e"/>
<path d="M94.58,702.45L99.28,702.45L96.93,697.95Z" fill="#ff7f0e"/>
<path d="M133.17,702.45L137.87,702.45L135.52,697.95Z" fill="#ff7f0e"/>
<path d="M178.19,702.45L182.89,702.45L180.54,697.95Z" fill="#ff7f0e"/>
<path d="M223.21,702.45L227.91,702.45L225.56,697.95Z" fill="#ff7f0e"/>
<path d="M261.80,702.45L266.50,702.45L264.15,697.95Z" fill="#ff7f0e"/>
<path d="M306.82,702.45L311.52,702.45L309.17,697.95Z" fill="#ff7f0e"/>
<path d="M326.12,702.45L330.82,702.45L328.47,697.95Z" fill="#ff7f0e"/>
<path d="M351.84,702.45L356.54,702.45L354.19,697.95Z" fill="#ff7f0e"/>
<path d="M403.29,702.45L407.99,702.45L405.64,697.95Z" fill="#ff7f0e"/>
<path d="M441.88,702.45L446.58,702.45L444.23,697.95Z" fill="#ff7f0e"/>
<path d="M486.90,702.45L491.60,702.45L489.25,697.95Z" fill="#ff7f0e"/>
<path d="M506.20,694.85L510.90,694.85L508.55,690.35Z" fill="#ff7f0e"/>
<path d="M538.36,681.35L543.06,681.35L540.71,676.85Z" fill="#ff7f0e"/>
<path d="M583.38,660.55L588.08,660.55L585.73,656.05Z" fill="#ff7f0e"/>
<path d="M628.40,639.95L633.10,639.95L630.75,635.45Z" fill="#ff7f0e"/>
<path d="M673.42,688.55L678.12,688.55L675.77,684.05Z" fill="#ff7f0e"/>
<rect x="88.40" y="696.40" width="4.20" height="4.20" fill="#2ca02c"/>
<rect x="94.83" y="696.40" width="4.20" height="4.20" fill="#2ca02c"/>
<rect x="133.42" y="696.40" width="4.20" height="4.20" fill="#2ca02c"/>
<rect x="178.44" y="696.40" width="4.20" height="4.20" fill="#2ca02c"/>
<rect x="223.46" y="696.40" width="4.20" height="4.20" fill="#2ca02c"/>
<rect x="262.05" y="696.40" width="4.20" height="4.20" fill="#2ca02c"/>
<rect x="307.07" y="696.40" width="4.20" height="4.20" fill="#2ca02c"/>
<rect x="326.37" y="696.40" width="4.20" height="4.20" fill="#2ca02c"/>
<rect x="352.09" y="696.40" width="4.20" height="4.20" fill="#2ca02c"/>
<rect x="403.54" y="696.40" width="4.20" height="4.20" fill="#2ca02c"/>
<rect x="442.13" y="696.40" width="4.20" height="4.20" fill="#2ca02c"/>
<rect x="487.15" y="696.70" width="4.20" height="4.20" fill="#2ca02c"/>
<rect x="506.45" y="696.70" width="4.20" height="4.20" fill="#2ca02c"/>
<rect x="538.61" y="696.40" width="4.20" height="4.20" fill="#2ca02c"/>
<rect x="583.63" y="696.00" width="4.20" height="4.20" fill="#2ca02c"/>
<rect x="628.65" y="686.90" width="4.20" height="4.20" fill="#2ca02c"/>
<rect x="673.67" y="675.90" width="4.20" height="4.20" fill="#2ca02c"/>
<circle cx="90.50" cy="695.70" r="2.30" fill="#d62728"/>
<circle cx="96.93" cy="695.70" r="2.30" fill="#d62728"/>
<circle cx="135.52" cy="695.70" r="2.30" fill="#d62728"/>
<circle cx="180.54" cy="695.70" r="2.30" fill="#d62728"/>
<circle cx="225.56" cy="695.70" r="2.30" fill="#d62728"/>
<circle cx="264.15" cy="695.70" r="2.30" fill="#d62728"/>
<circle cx="309.17" cy="695.70" r="2.30" fill="#d62728"/>
<circle cx="328.47" cy="695.70" r="2.30" fill="#d62728"/>
<circle cx="354.19" cy="695.70" r="2.30" fill="#d62728"/>
<circle cx="405.64" cy="695.70" r="2.30" fill="#d62728"/>
<circle cx="444.23" cy="695.70" r="2.30" fill="#d62728"/>
<circle cx="489.25" cy="696.20" r="2.30" fill="#d62728"/>
<circle cx="508.55" cy="695.60" r="2.30" fill="#d62728"/>
<circle cx="540.71" cy="694.70" r="2.30" fill="#d62728"/>
<circle cx="585.73" cy="692.70" r="2.30" fill="#d62728"/>
<circle cx="630.75" cy="690.40" r="2.30" fill="#d62728"/>
<circle cx="675.77" cy="686.30" r="2.30" fill="#d62728"/>
</g>
<rect x="90.50" y="549.00" width="591.70" height="152.00" fill="none" stroke="#111" stroke-width="1.5"/>
<text transform="translate(84.60,706.60) scale(1,1.07)" font-size="16" text-anchor="end" font-weight="normal" >0.0</text>
<text transform="translate(84.60,676.20) scale(1,1.07)" font-size="16" text-anchor="end" font-weight="normal" >20.0</text>
<text transform="translate(84.60,645.80) scale(1,1.07)" font-size="16" text-anchor="end" font-weight="normal" >40.0</text>
<text transform="translate(84.60,615.40) scale(1,1.07)" font-size="16" text-anchor="end" font-weight="normal" >60.0</text>
<text transform="translate(84.60,585.00) scale(1,1.07)" font-size="16" text-anchor="end" font-weight="normal" >80.0</text>
<text transform="translate(84.60,554.60) scale(1,1.07)" font-size="16" text-anchor="end" font-weight="normal" >100.0</text>
<text x="103.40" y="574.50" font-size="15.6" text-anchor="start" font-weight="bold" >A</text>
<g>
<line x1="129.09" y1="731.60" x2="129.09" y2="883.60" stroke="#c4c4c4" stroke-width="0.8" stroke-dasharray="1.9,1"/>
<line x1="193.40" y1="731.60" x2="193.40" y2="883.60" stroke="#c4c4c4" stroke-width="0.8" stroke-dasharray="1.9,1"/>
<line x1="257.72" y1="731.60" x2="257.72" y2="883.60" stroke="#c4c4c4" stroke-width="0.8" stroke-dasharray="1.9,1"/>
<line x1="322.03" y1="731.60" x2="322.03" y2="883.60" stroke="#c4c4c4" stroke-width="0.8" stroke-dasharray="1.9,1"/>
<line x1="386.35" y1="731.60" x2="386.35" y2="883.60" stroke="#c4c4c4" stroke-width="0.8" stroke-dasharray="1.9,1"/>
<line x1="450.67" y1="731.60" x2="450.67" y2="883.60" stroke="#c4c4c4" stroke-width="0.8" stroke-dasharray="1.9,1"/>
<line x1="514.98" y1="731.60" x2="514.98" y2="883.60" stroke="#c4c4c4" stroke-width="0.8" stroke-dasharray="1.9,1"/>
<line x1="579.30" y1="731.60" x2="579.30" y2="883.60" stroke="#c4c4c4" stroke-width="0.8" stroke-dasharray="1.9,1"/>
<line x1="643.61" y1="731.60" x2="643.61" y2="883.60" stroke="#c4c4c4" stroke-width="0.8" stroke-dasharray="1.9,1"/>
<line x1="90.50" y1="853.20" x2="682.20" y2="853.20" stroke="#c4c4c4" stroke-width="0.8" stroke-dasharray="1.9,1"/>
<line x1="90.50" y1="822.80" x2="682.20" y2="822.80" stroke="#c4c4c4" stroke-width="0.8" stroke-dasharray="1.9,1"/>
<line x1="90.50" y1="792.40" x2="682.20" y2="792.40" stroke="#c4c4c4" stroke-width="0.8" stroke-dasharray="1.9,1"/>
<line x1="90.50" y1="762.00" x2="682.20" y2="762.00" stroke="#c4c4c4" stroke-width="0.8" stroke-dasharray="1.9,1"/>
<rect x="96" y="739.60" width="25.50" height="29" fill="#fff"/>
<line x1="94.62" y1="731.60" x2="94.62" y2="883.60" stroke="#fadada" stroke-width="1.6"/>
<line x1="94.62" y1="731.60" x2="94.62" y2="883.60" stroke="#f08080" stroke-width="1.4" stroke-dasharray="1.6,1.3"/>
<line x1="306.60" y1="731.60" x2="306.60" y2="883.60" stroke="#fadada" stroke-width="1.6"/>
<line x1="306.60" y1="731.60" x2="306.60" y2="883.60" stroke="#f08080" stroke-width="1.4" stroke-dasharray="1.6,1.3"/>
<line x1="487.32" y1="731.60" x2="487.32" y2="883.60" stroke="#fadada" stroke-width="1.6"/>
<line x1="487.32" y1="731.60" x2="487.32" y2="883.60" stroke="#f08080" stroke-width="1.4" stroke-dasharray="1.6,1.3"/>
</g>
<path d="M90.50,868.40h3.3 M90.50,853.20h5.3 M90.50,838.00h3.3 M90.50,822.80h5.3 M90.50,807.60h3.3 M90.50,792.40h5.3 M90.50,777.20h3.3 M90.50,762.00h5.3 M90.50,746.80h3.3 M129.09,883.60v-5.3 M193.40,883.60v-5.3 M257.72,883.60v-5.3 M322.03,883.60v-5.3 M386.35,883.60v-5.3 M450.67,883.60v-5.3 M514.98,883.60v-5.3 M579.30,883.60v-5.3 M643.61,883.60v-5.3 M161.25,883.60v-3.3 M225.56,883.60v-3.3 M289.88,883.60v-3.3 M354.19,883.60v-3.3 M418.51,883.60v-3.3 M482.82,883.60v-3.3 M547.14,883.60v-3.3 M611.45,883.60v-3.3 M675.77,883.60v-3.3" stroke="#000" stroke-width="1.2" fill="none"/>
<clipPath id="cpb2"><rect x="90.5" y="731.6" width="591.7" height="152.0"/></clipPath>
<g clip-path="url(#cpb2)">
<line x1="444.23" y1="872.80" x2="444.23" y2="877.50" stroke="#1f77b4" stroke-opacity="0.55" stroke-width="1.0"/><line x1="442.53" y1="872.80" x2="445.93" y2="872.80" stroke="#1f77b4" stroke-opacity="0.72" stroke-width="1.2"/><line x1="442.53" y1="877.50" x2="445.93" y2="877.50" stroke="#1f77b4" stroke-opacity="0.72" stroke-width="1.2"/>
<line x1="489.25" y1="865.90" x2="489.25" y2="873.70" stroke="#1f77b4" stroke-opacity="0.55" stroke-width="1.0"/><line x1="487.55" y1="865.90" x2="490.95" y2="865.90" stroke="#1f77b4" stroke-opacity="0.72" stroke-width="1.2"/><line x1="487.55" y1="873.70" x2="490.95" y2="873.70" stroke="#1f77b4" stroke-opacity="0.72" stroke-width="1.2"/>
<line x1="508.55" y1="855.10" x2="508.55" y2="860.20" stroke="#1f77b4" stroke-opacity="0.55" stroke-width="1.0"/><line x1="506.85" y1="855.10" x2="510.25" y2="855.10" stroke="#1f77b4" stroke-opacity="0.72" stroke-width="1.2"/><line x1="506.85" y1="860.20" x2="510.25" y2="860.20" stroke="#1f77b4" stroke-opacity="0.72" stroke-width="1.2"/>
<line x1="540.71" y1="841.80" x2="540.71" y2="848.10" stroke="#1f77b4" stroke-opacity="0.55" stroke-width="1.0"/><line x1="539.01" y1="841.80" x2="542.41" y2="841.80" stroke="#1f77b4" stroke-opacity="0.72" stroke-width="1.2"/><line x1="539.01" y1="848.10" x2="542.41" y2="848.10" stroke="#1f77b4" stroke-opacity="0.72" stroke-width="1.2"/>
<line x1="585.73" y1="806.70" x2="585.73" y2="835.60" stroke="#1f77b4" stroke-opacity="0.55" stroke-width="1.0"/><line x1="584.03" y1="806.70" x2="587.43" y2="806.70" stroke="#1f77b4" stroke-opacity="0.72" stroke-width="1.2"/><line x1="584.03" y1="835.60" x2="587.43" y2="835.60" stroke="#1f77b4" stroke-opacity="0.72" stroke-width="1.2"/>
<line x1="630.75" y1="788.20" x2="630.75" y2="826.30" stroke="#1f77b4" stroke-opacity="0.55" stroke-width="1.0"/><line x1="629.05" y1="788.20" x2="632.45" y2="788.20" stroke="#1f77b4" stroke-opacity="0.72" stroke-width="1.2"/><line x1="629.05" y1="826.30" x2="632.45" y2="826.30" stroke="#1f77b4" stroke-opacity="0.72" stroke-width="1.2"/>
<line x1="675.77" y1="765.40" x2="675.77" y2="804.90" stroke="#1f77b4" stroke-opacity="0.55" stroke-width="1.0"/><line x1="674.07" y1="765.40" x2="677.47" y2="765.40" stroke="#1f77b4" stroke-opacity="0.72" stroke-width="1.2"/><line x1="674.07" y1="804.90" x2="677.47" y2="804.90" stroke="#1f77b4" stroke-opacity="0.72" stroke-width="1.2"/>
<line x1="630.75" y1="853.20" x2="630.75" y2="864.10" stroke="#ff7f0e" stroke-opacity="0.55" stroke-width="1.0"/><line x1="629.05" y1="853.20" x2="632.45" y2="853.20" stroke="#ff7f0e" stroke-opacity="0.72" stroke-width="1.2"/><line x1="629.05" y1="864.10" x2="632.45" y2="864.10" stroke="#ff7f0e" stroke-opacity="0.72" stroke-width="1.2"/>
<line x1="675.77" y1="867.80" x2="675.77" y2="873.30" stroke="#d62728" stroke-opacity="0.55" stroke-width="1.0"/><line x1="674.07" y1="867.80" x2="677.47" y2="867.80" stroke="#d62728" stroke-opacity="0.72" stroke-width="1.2"/><line x1="674.07" y1="873.30" x2="677.47" y2="873.30" stroke="#d62728" stroke-opacity="0.72" stroke-width="1.2"/>
<path d="M88.15,877.75L92.85,877.75L90.50,882.25Z" fill="#1f77b4"/>
<path d="M94.58,877.75L99.28,877.75L96.93,882.25Z" fill="#1f77b4"/>
<path d="M133.17,877.75L137.87,877.75L135.52,882.25Z" fill="#1f77b4"/>
<path d="M178.19,877.75L182.89,877.75L180.54,882.25Z" fill="#1f77b4"/>
<path d="M223.21,877.75L227.91,877.75L225.56,882.25Z" fill="#1f77b4"/>
<path d="M261.80,877.75L266.50,877.75L264.15,882.25Z" fill="#1f77b4"/>
<path d="M306.82,877.75L311.52,877.75L309.17,882.25Z" fill="#1f77b4"/>
<path d="M326.12,877.75L330.82,877.75L328.47,882.25Z" fill="#1f77b4"/>
<path d="M351.84,877.75L356.54,877.75L354.19,882.25Z" fill="#1f77b4"/>
<path d="M403.29,877.75L407.99,877.75L405.64,882.25Z" fill="#1f77b4"/>
<path d="M441.88,873.15L446.58,873.15L444.23,877.65Z" fill="#1f77b4"/>
<path d="M486.90,867.65L491.60,867.65L489.25,872.15Z" fill="#1f77b4"/>
<path d="M506.20,855.35L510.90,855.35L508.55,859.85Z" fill="#1f77b4"/>
<path d="M538.36,842.45L543.06,842.45L540.71,846.95Z" fill="#1f77b4"/>
<path d="M583.38,819.05L588.08,819.05L585.73,823.55Z" fill="#1f77b4"/>
<path d="M628.40,805.15L633.10,805.15L630.75,809.65Z" fill="#1f77b4"/>
<path d="M673.42,782.95L678.12,782.95L675.77,787.45Z" fill="#1f77b4"/>
<path d="M88.15,885.05L92.85,885.05L90.50,880.55Z" fill="#ff7f0e"/>
<path d="M94.58,885.05L99.28,885.05L96.93,880.55Z" fill="#ff7f0e"/>
<path d="M133.17,885.05L137.87,885.05L135.52,880.55Z" fill="#ff7f0e"/>
<path d="M178.19,885.05L182.89,885.05L180.54,880.55Z" fill="#ff7f0e"/>
<path d="M223.21,885.05L227.91,885.05L225.56,880.55Z" fill="#ff7f0e"/>
<path d="M261.80,885.05L266.50,885.05L264.15,880.55Z" fill="#ff7f0e"/>
<path d="M306.82,885.05L311.52,885.05L309.17,880.55Z" fill="#ff7f0e"/>
<path d="M326.12,885.05L330.82,885.05L328.47,880.55Z" fill="#ff7f0e"/>
<path d="M351.84,885.05L356.54,885.05L354.19,880.55Z" fill="#ff7f0e"/>
<path d="M403.29,885.05L407.99,885.05L405.64,880.55Z" fill="#ff7f0e"/>
<path d="M441.88,885.05L446.58,885.05L444.23,880.55Z" fill="#ff7f0e"/>
<path d="M486.90,885.05L491.60,885.05L489.25,880.55Z" fill="#ff7f0e"/>
<path d="M506.20,885.05L510.90,885.05L508.55,880.55Z" fill="#ff7f0e"/>
<path d="M538.36,879.55L543.06,879.55L540.71,875.05Z" fill="#ff7f0e"/>
<path d="M583.38,872.75L588.08,872.75L585.73,868.25Z" fill="#ff7f0e"/>
<path d="M628.40,860.95L633.10,860.95L630.75,856.45Z" fill="#ff7f0e"/>
<path d="M673.42,832.75L678.12,832.75L675.77,828.25Z" fill="#ff7f0e"/>
<rect x="88.40" y="878.60" width="4.20" height="4.20" fill="#2ca02c"/>
<rect x="94.83" y="878.60" width="4.20" height="4.20" fill="#2ca02c"/>
<rect x="133.42" y="878.60" width="4.20" height="4.20" fill="#2ca02c"/>
<rect x="178.44" y="878.60" width="4.20" height="4.20" fill="#2ca02c"/>
<rect x="223.46" y="878.60" width="4.20" height="4.20" fill="#2ca02c"/>
<rect x="262.05" y="878.60" width="4.20" height="4.20" fill="#2ca02c"/>
<rect x="307.07" y="878.60" width="4.20" height="4.20" fill="#2ca02c"/>
<rect x="326.37" y="878.60" width="4.20" height="4.20" fill="#2ca02c"/>
<rect x="352.09" y="878.60" width="4.20" height="4.20" fill="#2ca02c"/>
<rect x="403.54" y="878.60" width="4.20" height="4.20" fill="#2ca02c"/>
<rect x="442.13" y="879.60" width="4.20" height="4.20" fill="#2ca02c"/>
<rect x="487.15" y="879.60" width="4.20" height="4.20" fill="#2ca02c"/>
<rect x="506.45" y="878.60" width="4.20" height="4.20" fill="#2ca02c"/>
<rect x="538.61" y="879.60" width="4.20" height="4.20" fill="#2ca02c"/>
<rect x="583.63" y="878.30" width="4.20" height="4.20" fill="#2ca02c"/>
<rect x="628.65" y="877.50" width="4.20" height="4.20" fill="#2ca02c"/>
<rect x="673.67" y="868.40" width="4.20" height="4.20" fill="#2ca02c"/>
<circle cx="90.50" cy="876.90" r="2.30" fill="#d62728"/>
<circle cx="96.93" cy="876.90" r="2.30" fill="#d62728"/>
<circle cx="135.52" cy="876.90" r="2.30" fill="#d62728"/>
<circle cx="180.54" cy="876.90" r="2.30" fill="#d62728"/>
<circle cx="225.56" cy="876.90" r="2.30" fill="#d62728"/>
<circle cx="264.15" cy="876.90" r="2.30" fill="#d62728"/>
<circle cx="309.17" cy="876.90" r="2.30" fill="#d62728"/>
<circle cx="328.47" cy="876.90" r="2.30" fill="#d62728"/>
<circle cx="354.19" cy="876.90" r="2.30" fill="#d62728"/>
<circle cx="405.64" cy="876.90" r="2.30" fill="#d62728"/>
<circle cx="444.23" cy="879.40" r="2.30" fill="#d62728"/>
<circle cx="489.25" cy="879.40" r="2.30" fill="#d62728"/>
<circle cx="508.55" cy="879.20" r="2.30" fill="#d62728"/>
<circle cx="540.71" cy="879.20" r="2.30" fill="#d62728"/>
<circle cx="585.73" cy="877.50" r="2.30" fill="#d62728"/>
<circle cx="630.75" cy="874.50" r="2.30" fill="#d62728"/>
<circle cx="675.77" cy="870.50" r="2.30" fill="#d62728"/>
</g>
<rect x="90.50" y="731.60" width="591.70" height="152.00" fill="none" stroke="#111" stroke-width="1.5"/>
<text transform="translate(84.60,889.20) scale(1,1.07)" font-size="16" text-anchor="end" font-weight="normal" >0.0</text>
<text transform="translate(84.60,858.80) scale(1,1.07)" font-size="16" text-anchor="end" font-weight="normal" >20.0</text>
<text transform="translate(84.60,828.40) scale(1,1.07)" font-size="16" text-anchor="end" font-weight="normal" >40.0</text>
<text transform="translate(84.60,798.00) scale(1,1.07)" font-size="16" text-anchor="end" font-weight="normal" >60.0</text>
<text transform="translate(84.60,767.60) scale(1,1.07)" font-size="16" text-anchor="end" font-weight="normal" >80.0</text>
<text transform="translate(84.60,737.20) scale(1,1.07)" font-size="16" text-anchor="end" font-weight="normal" >100.0</text>
<text x="103.40" y="757.10" font-size="15.6" text-anchor="start" font-weight="bold" >B</text>
<g>
<line x1="129.09" y1="914.40" x2="129.09" y2="1066.40" stroke="#c4c4c4" stroke-width="0.8" stroke-dasharray="1.9,1"/>
<line x1="193.40" y1="914.40" x2="193.40" y2="1066.40" stroke="#c4c4c4" stroke-width="0.8" stroke-dasharray="1.9,1"/>
<line x1="257.72" y1="914.40" x2="257.72" y2="1066.40" stroke="#c4c4c4" stroke-width="0.8" stroke-dasharray="1.9,1"/>
<line x1="322.03" y1="914.40" x2="322.03" y2="1066.40" stroke="#c4c4c4" stroke-width="0.8" stroke-dasharray="1.9,1"/>
<line x1="386.35" y1="914.40" x2="386.35" y2="1066.40" stroke="#c4c4c4" stroke-width="0.8" stroke-dasharray="1.9,1"/>
<line x1="450.67" y1="914.40" x2="450.67" y2="1066.40" stroke="#c4c4c4" stroke-width="0.8" stroke-dasharray="1.9,1"/>
<line x1="514.98" y1="914.40" x2="514.98" y2="1066.40" stroke="#c4c4c4" stroke-width="0.8" stroke-dasharray="1.9,1"/>
<line x1="579.30" y1="914.40" x2="579.30" y2="1066.40" stroke="#c4c4c4" stroke-width="0.8" stroke-dasharray="1.9,1"/>
<line x1="643.61" y1="914.40" x2="643.61" y2="1066.40" stroke="#c4c4c4" stroke-width="0.8" stroke-dasharray="1.9,1"/>
<line x1="90.50" y1="1036.00" x2="682.20" y2="1036.00" stroke="#c4c4c4" stroke-width="0.8" stroke-dasharray="1.9,1"/>
<line x1="90.50" y1="1005.60" x2="682.20" y2="1005.60" stroke="#c4c4c4" stroke-width="0.8" stroke-dasharray="1.9,1"/>
<line x1="90.50" y1="975.20" x2="682.20" y2="975.20" stroke="#c4c4c4" stroke-width="0.8" stroke-dasharray="1.9,1"/>
<line x1="90.50" y1="944.80" x2="682.20" y2="944.80" stroke="#c4c4c4" stroke-width="0.8" stroke-dasharray="1.9,1"/>
<rect x="96" y="922.40" width="25.50" height="29" fill="#fff"/>
<line x1="94.62" y1="914.40" x2="94.62" y2="1066.40" stroke="#fadada" stroke-width="1.6"/>
<line x1="94.62" y1="914.40" x2="94.62" y2="1066.40" stroke="#f08080" stroke-width="1.4" stroke-dasharray="1.6,1.3"/>
<line x1="306.60" y1="914.40" x2="306.60" y2="1066.40" stroke="#fadada" stroke-width="1.6"/>
<line x1="306.60" y1="914.40" x2="306.60" y2="1066.40" stroke="#f08080" stroke-width="1.4" stroke-dasharray="1.6,1.3"/>
<line x1="487.32" y1="914.40" x2="487.32" y2="1066.40" stroke="#fadada" stroke-width="1.6"/>
<line x1="487.32" y1="914.40" x2="487.32" y2="1066.40" stroke="#f08080" stroke-width="1.4" stroke-dasharray="1.6,1.3"/>
</g>
<path d="M90.50,1051.20h3.3 M90.50,1036.00h5.3 M90.50,1020.80h3.3 M90.50,1005.60h5.3 M90.50,990.40h3.3 M90.50,975.20h5.3 M90.50,960.00h3.3 M90.50,944.80h5.3 M90.50,929.60h3.3 M129.09,1066.40v-5.3 M193.40,1066.40v-5.3 M257.72,1066.40v-5.3 M322.03,1066.40v-5.3 M386.35,1066.40v-5.3 M450.67,1066.40v-5.3 M514.98,1066.40v-5.3 M579.30,1066.40v-5.3 M643.61,1066.40v-5.3 M161.25,1066.40v-3.3 M225.56,1066.40v-3.3 M289.88,1066.40v-3.3 M354.19,1066.40v-3.3 M418.51,1066.40v-3.3 M482.82,1066.40v-3.3 M547.14,1066.40v-3.3 M611.45,1066.40v-3.3 M675.77,1066.40v-3.3" stroke="#000" stroke-width="1.2" fill="none"/>
<clipPath id="cpb3"><rect x="90.5" y="914.4" width="591.7" height="152.0000000000001"/></clipPath>
<g clip-path="url(#cpb3)">
<line x1="444.23" y1="1045.40" x2="444.23" y2="1060.00" stroke="#1f77b4" stroke-opacity="0.55" stroke-width="1.0"/><line x1="442.53" y1="1045.40" x2="445.93" y2="1045.40" stroke="#1f77b4" stroke-opacity="0.72" stroke-width="1.2"/><line x1="442.53" y1="1060.00" x2="445.93" y2="1060.00" stroke="#1f77b4" stroke-opacity="0.72" stroke-width="1.2"/>
<line x1="489.25" y1="1046.50" x2="489.25" y2="1054.50" stroke="#1f77b4" stroke-opacity="0.55" stroke-width="1.0"/><line x1="487.55" y1="1046.50" x2="490.95" y2="1046.50" stroke="#1f77b4" stroke-opacity="0.72" stroke-width="1.2"/><line x1="487.55" y1="1054.50" x2="490.95" y2="1054.50" stroke="#1f77b4" stroke-opacity="0.72" stroke-width="1.2"/>
<line x1="508.55" y1="1014.10" x2="508.55" y2="1052.60" stroke="#1f77b4" stroke-opacity="0.55" stroke-width="1.0"/><line x1="506.85" y1="1014.10" x2="510.25" y2="1014.10" stroke="#1f77b4" stroke-opacity="0.72" stroke-width="1.2"/><line x1="506.85" y1="1052.60" x2="510.25" y2="1052.60" stroke="#1f77b4" stroke-opacity="0.72" stroke-width="1.2"/>
<line x1="540.71" y1="1002.30" x2="540.71" y2="1051.70" stroke="#1f77b4" stroke-opacity="0.55" stroke-width="1.0"/><line x1="539.01" y1="1002.30" x2="542.41" y2="1002.30" stroke="#1f77b4" stroke-opacity="0.72" stroke-width="1.2"/><line x1="539.01" y1="1051.70" x2="542.41" y2="1051.70" stroke="#1f77b4" stroke-opacity="0.72" stroke-width="1.2"/>
<line x1="585.73" y1="1004.50" x2="585.73" y2="1049.80" stroke="#1f77b4" stroke-opacity="0.55" stroke-width="1.0"/><line x1="584.03" y1="1004.50" x2="587.43" y2="1004.50" stroke="#1f77b4" stroke-opacity="0.72" stroke-width="1.2"/><line x1="584.03" y1="1049.80" x2="587.43" y2="1049.80" stroke="#1f77b4" stroke-opacity="0.72" stroke-width="1.2"/>
<line x1="508.55" y1="1052.60" x2="508.55" y2="1058.00" stroke="#ff7f0e" stroke-opacity="0.55" stroke-width="1.0"/><line x1="506.85" y1="1052.60" x2="510.25" y2="1052.60" stroke="#ff7f0e" stroke-opacity="0.72" stroke-width="1.2"/><line x1="506.85" y1="1058.00" x2="510.25" y2="1058.00" stroke="#ff7f0e" stroke-opacity="0.72" stroke-width="1.2"/>
<line x1="540.71" y1="1048.40" x2="540.71" y2="1059.00" stroke="#ff7f0e" stroke-opacity="0.55" stroke-width="1.0"/><line x1="539.01" y1="1048.40" x2="542.41" y2="1048.40" stroke="#ff7f0e" stroke-opacity="0.72" stroke-width="1.2"/><line x1="539.01" y1="1059.00" x2="542.41" y2="1059.00" stroke="#ff7f0e" stroke-opacity="0.72" stroke-width="1.2"/>
<line x1="585.73" y1="1040.00" x2="585.73" y2="1043.50" stroke="#ff7f0e" stroke-opacity="0.55" stroke-width="1.0"/><line x1="584.03" y1="1040.00" x2="587.43" y2="1040.00" stroke="#ff7f0e" stroke-opacity="0.72" stroke-width="1.2"/><line x1="584.03" y1="1043.50" x2="587.43" y2="1043.50" stroke="#ff7f0e" stroke-opacity="0.72" stroke-width="1.2"/>
<line x1="630.75" y1="1011.20" x2="630.75" y2="1037.20" stroke="#ff7f0e" stroke-opacity="0.55" stroke-width="1.0"/><line x1="629.05" y1="1011.20" x2="632.45" y2="1011.20" stroke="#ff7f0e" stroke-opacity="0.72" stroke-width="1.2"/><line x1="629.05" y1="1037.20" x2="632.45" y2="1037.20" stroke="#ff7f0e" stroke-opacity="0.72" stroke-width="1.2"/>
<line x1="675.77" y1="1048.10" x2="675.77" y2="1056.00" stroke="#2ca02c" stroke-opacity="0.55" stroke-width="1.0"/><line x1="674.07" y1="1048.10" x2="677.47" y2="1048.10" stroke="#2ca02c" stroke-opacity="0.72" stroke-width="1.2"/><line x1="674.07" y1="1056.00" x2="677.47" y2="1056.00" stroke="#2ca02c" stroke-opacity="0.72" stroke-width="1.2"/>
<line x1="675.77" y1="1048.00" x2="675.77" y2="1053.00" stroke="#d62728" stroke-opacity="0.55" stroke-width="1.0"/><line x1="674.07" y1="1048.00" x2="677.47" y2="1048.00" stroke="#d62728" stroke-opacity="0.72" stroke-width="1.2"/><line x1="674.07" y1="1053.00" x2="677.47" y2="1053.00" stroke="#d62728" stroke-opacity="0.72" stroke-width="1.2"/>
<path d="M88.15,1060.75L92.85,1060.75L90.50,1065.25Z" fill="#1f77b4"/>
<path d="M94.58,1060.75L99.28,1060.75L96.93,1065.25Z" fill="#1f77b4"/>
<path d="M133.17,1060.75L137.87,1060.75L135.52,1065.25Z" fill="#1f77b4"/>
<path d="M178.19,1060.75L182.89,1060.75L180.54,1065.25Z" fill="#1f77b4"/>
<path d="M223.21,1060.75L227.91,1060.75L225.56,1065.25Z" fill="#1f77b4"/>
<path d="M261.80,1060.75L266.50,1060.75L264.15,1065.25Z" fill="#1f77b4"/>
<path d="M306.82,1060.75L311.52,1060.75L309.17,1065.25Z" fill="#1f77b4"/>
<path d="M326.12,1060.75L330.82,1060.75L328.47,1065.25Z" fill="#1f77b4"/>
<path d="M351.84,1060.75L356.54,1060.75L354.19,1065.25Z" fill="#1f77b4"/>
<path d="M403.29,1060.75L407.99,1060.75L405.64,1065.25Z" fill="#1f77b4"/>
<path d="M441.88,1050.95L446.58,1050.95L444.23,1055.45Z" fill="#1f77b4"/>
<path d="M486.90,1048.45L491.60,1048.45L489.25,1052.95Z" fill="#1f77b4"/>
<path d="M506.20,1032.75L510.90,1032.75L508.55,1037.25Z" fill="#1f77b4"/>
<path d="M538.36,1024.75L543.06,1024.75L540.71,1029.25Z" fill="#1f77b4"/>
<path d="M583.38,1024.85L588.08,1024.85L585.73,1029.35Z" fill="#1f77b4"/>
<path d="M628.40,991.85L633.10,991.85L630.75,996.35Z" fill="#1f77b4"/>
<path d="M673.42,975.75L678.12,975.75L675.77,980.25Z" fill="#1f77b4"/>
<path d="M88.15,1067.65L92.85,1067.65L90.50,1063.15Z" fill="#ff7f0e"/>
<path d="M94.58,1067.65L99.28,1067.65L96.93,1063.15Z" fill="#ff7f0e"/>
<path d="M133.17,1067.65L137.87,1067.65L135.52,1063.15Z" fill="#ff7f0e"/>
<path d="M178.19,1067.65L182.89,1067.65L180.54,1063.15Z" fill="#ff7f0e"/>
<path d="M223.21,1067.65L227.91,1067.65L225.56,1063.15Z" fill="#ff7f0e"/>
<path d="M261.80,1067.65L266.50,1067.65L264.15,1063.15Z" fill="#ff7f0e"/>
<path d="M306.82,1067.65L311.52,1067.65L309.17,1063.15Z" fill="#ff7f0e"/>
<path d="M326.12,1067.65L330.82,1067.65L328.47,1063.15Z" fill="#ff7f0e"/>
<path d="M351.84,1067.65L356.54,1067.65L354.19,1063.15Z" fill="#ff7f0e"/>
<path d="M403.29,1067.65L407.99,1067.65L405.64,1063.15Z" fill="#ff7f0e"/>
<path d="M441.88,1067.65L446.58,1067.65L444.23,1063.15Z" fill="#ff7f0e"/>
<path d="M486.90,1061.55L491.60,1061.55L489.25,1057.05Z" fill="#ff7f0e"/>
<path d="M506.20,1057.75L510.90,1057.75L508.55,1053.25Z" fill="#ff7f0e"/>
<path d="M538.36,1056.35L543.06,1056.35L540.71,1051.85Z" fill="#ff7f0e"/>
<path d="M583.38,1044.05L588.08,1044.05L585.73,1039.55Z" fill="#ff7f0e"/>
<path d="M628.40,1026.05L633.10,1026.05L630.75,1021.55Z" fill="#ff7f0e"/>
<path d="M673.42,1030.55L678.12,1030.55L675.77,1026.05Z" fill="#ff7f0e"/>
<rect x="88.40" y="1062.20" width="4.20" height="4.20" fill="#2ca02c"/>
<rect x="94.83" y="1062.20" width="4.20" height="4.20" fill="#2ca02c"/>
<rect x="133.42" y="1062.20" width="4.20" height="4.20" fill="#2ca02c"/>
<rect x="178.44" y="1062.20" width="4.20" height="4.20" fill="#2ca02c"/>
<rect x="223.46" y="1062.20" width="4.20" height="4.20" fill="#2ca02c"/>
<rect x="262.05" y="1062.20" width="4.20" height="4.20" fill="#2ca02c"/>
<rect x="307.07" y="1062.20" width="4.20" height="4.20" fill="#2ca02c"/>
<rect x="326.37" y="1062.20" width="4.20" height="4.20" fill="#2ca02c"/>
<rect x="352.09" y="1062.20" width="4.20" height="4.20" fill="#2ca02c"/>
<rect x="403.54" y="1062.20" width="4.20" height="4.20" fill="#2ca02c"/>
<rect x="442.13" y="1061.90" width="4.20" height="4.20" fill="#2ca02c"/>
<rect x="487.15" y="1061.90" width="4.20" height="4.20" fill="#2ca02c"/>
<rect x="506.45" y="1061.40" width="4.20" height="4.20" fill="#2ca02c"/>
<rect x="538.61" y="1059.60" width="4.20" height="4.20" fill="#2ca02c"/>
<rect x="583.63" y="1055.90" width="4.20" height="4.20" fill="#2ca02c"/>
<rect x="628.65" y="1050.70" width="4.20" height="4.20" fill="#2ca02c"/>
<rect x="673.67" y="1049.90" width="4.20" height="4.20" fill="#2ca02c"/>
<circle cx="90.50" cy="1060.90" r="2.30" fill="#d62728"/>
<circle cx="96.93" cy="1060.90" r="2.30" fill="#d62728"/>
<circle cx="135.52" cy="1060.90" r="2.30" fill="#d62728"/>
<circle cx="180.54" cy="1060.90" r="2.30" fill="#d62728"/>
<circle cx="225.56" cy="1060.90" r="2.30" fill="#d62728"/>
<circle cx="264.15" cy="1060.90" r="2.30" fill="#d62728"/>
<circle cx="309.17" cy="1060.90" r="2.30" fill="#d62728"/>
<circle cx="328.47" cy="1060.90" r="2.30" fill="#d62728"/>
<circle cx="354.19" cy="1060.90" r="2.30" fill="#d62728"/>
<circle cx="405.64" cy="1060.90" r="2.30" fill="#d62728"/>
<circle cx="444.23" cy="1062.10" r="2.30" fill="#d62728"/>
<circle cx="489.25" cy="1061.70" r="2.30" fill="#d62728"/>
<circle cx="508.55" cy="1061.20" r="2.30" fill="#d62728"/>
<circle cx="540.71" cy="1059.30" r="2.30" fill="#d62728"/>
<circle cx="585.73" cy="1056.50" r="2.30" fill="#d62728"/>
<circle cx="630.75" cy="1052.30" r="2.30" fill="#d62728"/>
<circle cx="675.77" cy="1050.60" r="2.30" fill="#d62728"/>
</g>
<rect x="90.50" y="914.40" width="591.70" height="152.00" fill="none" stroke="#111" stroke-width="1.5"/>
<text transform="translate(84.60,1072.00) scale(1,1.07)" font-size="16" text-anchor="end" font-weight="normal" >0.0</text>
<text transform="translate(84.60,1041.60) scale(1,1.07)" font-size="16" text-anchor="end" font-weight="normal" >20.0</text>
<text transform="translate(84.60,1011.20) scale(1,1.07)" font-size="16" text-anchor="end" font-weight="normal" >40.0</text>
<text transform="translate(84.60,980.80) scale(1,1.07)" font-size="16" text-anchor="end" font-weight="normal" >60.0</text>
<text transform="translate(84.60,950.40) scale(1,1.07)" font-size="16" text-anchor="end" font-weight="normal" >80.0</text>
<text transform="translate(84.60,920.00) scale(1,1.07)" font-size="16" text-anchor="end" font-weight="normal" >100.0</text>
<text x="103.40" y="939.90" font-size="15.6" text-anchor="start" font-weight="bold" >C</text>
<text transform="translate(129.09,1084.40) scale(1,1.07)" font-size="16" text-anchor="middle" font-weight="normal" >01/18</text>
<text transform="translate(193.40,1084.40) scale(1,1.07)" font-size="16" text-anchor="middle" font-weight="normal" >01/28</text>
<text transform="translate(257.72,1084.40) scale(1,1.07)" font-size="16" text-anchor="middle" font-weight="normal" >02/07</text>
<text transform="translate(322.03,1084.40) scale(1,1.07)" font-size="16" text-anchor="middle" font-weight="normal" >02/17</text>
<text transform="translate(386.35,1084.40) scale(1,1.07)" font-size="16" text-anchor="middle" font-weight="normal" >02/27</text>
<text transform="translate(450.67,1084.40) scale(1,1.07)" font-size="16" text-anchor="middle" font-weight="normal" >03/09</text>
<text transform="translate(514.98,1084.40) scale(1,1.07)" font-size="16" text-anchor="middle" font-weight="normal" >03/19</text>
<text transform="translate(579.30,1084.40) scale(1,1.07)" font-size="16" text-anchor="middle" font-weight="normal" >03/29</text>
<text transform="translate(643.61,1084.40) scale(1,1.07)" font-size="16" text-anchor="middle" font-weight="normal" >04/08</text>
<text x="386.80" y="1107.30" font-size="19.5" text-anchor="middle" font-weight="normal" >Date</text>
<text x="-0.30" y="17.90" font-size="26" text-anchor="start" font-weight="bold" >(a)</text>
<text x="-0.30" y="352.90" font-size="26" text-anchor="start" font-weight="bold" >(b)</text>
<line x1="204.50" y1="34.00" x2="204.50" y2="52.30" stroke="#1f77b4" stroke-opacity="0.55" stroke-width="1.0"/><line x1="202.80" y1="34.00" x2="206.20" y2="34.00" stroke="#1f77b4" stroke-opacity="0.72" stroke-width="1.2"/><line x1="202.80" y1="52.30" x2="206.20" y2="52.30" stroke="#1f77b4" stroke-opacity="0.72" stroke-width="1.2"/><path d="M202.15,40.95L206.85,40.95L204.50,45.45Z" fill="#1f77b4"/><text x="236.30" y="49.70" font-size="18" text-anchor="start" font-weight="normal" >Control</text>
<line x1="344.80" y1="34.00" x2="344.80" y2="52.30" stroke="#ff7f0e" stroke-opacity="0.55" stroke-width="1.0"/><line x1="343.10" y1="34.00" x2="346.50" y2="34.00" stroke="#ff7f0e" stroke-opacity="0.72" stroke-width="1.2"/><line x1="343.10" y1="52.30" x2="346.50" y2="52.30" stroke="#ff7f0e" stroke-opacity="0.72" stroke-width="1.2"/><path d="M342.45,45.45L347.15,45.45L344.80,40.95Z" fill="#ff7f0e"/><text x="376.60" y="49.70" font-size="18" text-anchor="start" font-weight="normal" >A</text>
<line x1="442.60" y1="34.00" x2="442.60" y2="52.30" stroke="#2ca02c" stroke-opacity="0.55" stroke-width="1.0"/><line x1="440.90" y1="34.00" x2="444.30" y2="34.00" stroke="#2ca02c" stroke-opacity="0.72" stroke-width="1.2"/><line x1="440.90" y1="52.30" x2="444.30" y2="52.30" stroke="#2ca02c" stroke-opacity="0.72" stroke-width="1.2"/><rect x="440.50" y="41.10" width="4.20" height="4.20" fill="#2ca02c"/><text x="475.60" y="49.70" font-size="18" text-anchor="start" font-weight="normal" >B</text>
<line x1="540.80" y1="34.00" x2="540.80" y2="52.30" stroke="#d62728" stroke-opacity="0.55" stroke-width="1.0"/><line x1="539.10" y1="34.00" x2="542.50" y2="34.00" stroke="#d62728" stroke-opacity="0.72" stroke-width="1.2"/><line x1="539.10" y1="52.30" x2="542.50" y2="52.30" stroke="#d62728" stroke-opacity="0.72" stroke-width="1.2"/><circle cx="540.80" cy="43.20" r="2.30" fill="#d62728"/><text x="572.90" y="49.70" font-size="18" text-anchor="start" font-weight="normal" >C</text>
<line x1="163.50" y1="332.60" x2="163.50" y2="350.30" stroke="#1f77b4" stroke-opacity="0.55" stroke-width="1.0"/><line x1="161.80" y1="332.60" x2="165.20" y2="332.60" stroke="#1f77b4" stroke-opacity="0.72" stroke-width="1.2"/><line x1="161.80" y1="350.30" x2="165.20" y2="350.30" stroke="#1f77b4" stroke-opacity="0.72" stroke-width="1.2"/><path d="M161.15,339.05L165.85,339.05L163.50,343.55Z" fill="#1f77b4"/><text x="195.70" y="348.10" font-size="18" text-anchor="start" font-weight="normal" >10 cm</text>
<line x1="292.70" y1="332.60" x2="292.70" y2="350.30" stroke="#ff7f0e" stroke-opacity="0.55" stroke-width="1.0"/><line x1="291.00" y1="332.60" x2="294.40" y2="332.60" stroke="#ff7f0e" stroke-opacity="0.72" stroke-width="1.2"/><line x1="291.00" y1="350.30" x2="294.40" y2="350.30" stroke="#ff7f0e" stroke-opacity="0.72" stroke-width="1.2"/><path d="M290.35,343.55L295.05,343.55L292.70,339.05Z" fill="#ff7f0e"/><text x="323.90" y="348.10" font-size="18" text-anchor="start" font-weight="normal" >20 cm</text>
<line x1="421.80" y1="332.60" x2="421.80" y2="350.30" stroke="#2ca02c" stroke-opacity="0.55" stroke-width="1.0"/><line x1="420.10" y1="332.60" x2="423.50" y2="332.60" stroke="#2ca02c" stroke-opacity="0.72" stroke-width="1.2"/><line x1="420.10" y1="350.30" x2="423.50" y2="350.30" stroke="#2ca02c" stroke-opacity="0.72" stroke-width="1.2"/><rect x="419.70" y="339.20" width="4.20" height="4.20" fill="#2ca02c"/><text x="453.20" y="348.10" font-size="18" text-anchor="start" font-weight="normal" >35 cm</text>
<line x1="551.20" y1="332.60" x2="551.20" y2="350.30" stroke="#d62728" stroke-opacity="0.55" stroke-width="1.0"/><line x1="549.50" y1="332.60" x2="552.90" y2="332.60" stroke="#d62728" stroke-opacity="0.72" stroke-width="1.2"/><line x1="549.50" y1="350.30" x2="552.90" y2="350.30" stroke="#d62728" stroke-opacity="0.72" stroke-width="1.2"/><circle cx="551.20" cy="341.30" r="2.30" fill="#d62728"/><text x="582.60" y="348.10" font-size="18" text-anchor="start" font-weight="normal" >80 cm</text>
<g transform="translate(32.50,305.30) rotate(-90)"><text x="0" y="0" font-size="19.85">NH</text><text x="28.8" y="-11.9" font-size="14">+</text><text x="29.0" y="8.3" font-size="13.2">4</text><rect x="40.7" y="-7.00" width="10.4" height="1.2" fill="#000"/><text x="54.2" y="0" font-size="19.85">N in soil solution (mg L</text><rect x="245.4" y="-16.85" width="7.9" height="1.2" fill="#000"/><text x="254.4" y="-11.7" font-size="13">1</text><text x="259.8" y="0" font-size="19.85">)</text></g>
<g transform="translate(33.30,864.20) rotate(-90)"><text x="0" y="0" font-size="19.85">NO</text><rect x="29.1" y="-16.70" width="6.9" height="1.2" fill="#000"/><text x="29.0" y="8.3" font-size="13.2">3</text><rect x="40.7" y="-7.00" width="10.4" height="1.2" fill="#000"/><text x="54.2" y="0" font-size="19.85">N in soil solution (mg L</text><rect x="245.4" y="-16.85" width="7.9" height="1.2" fill="#000"/><text x="254.4" y="-11.7" font-size="13">1</text><text x="259.8" y="0" font-size="19.85">)</text></g>
</svg></body></html>
